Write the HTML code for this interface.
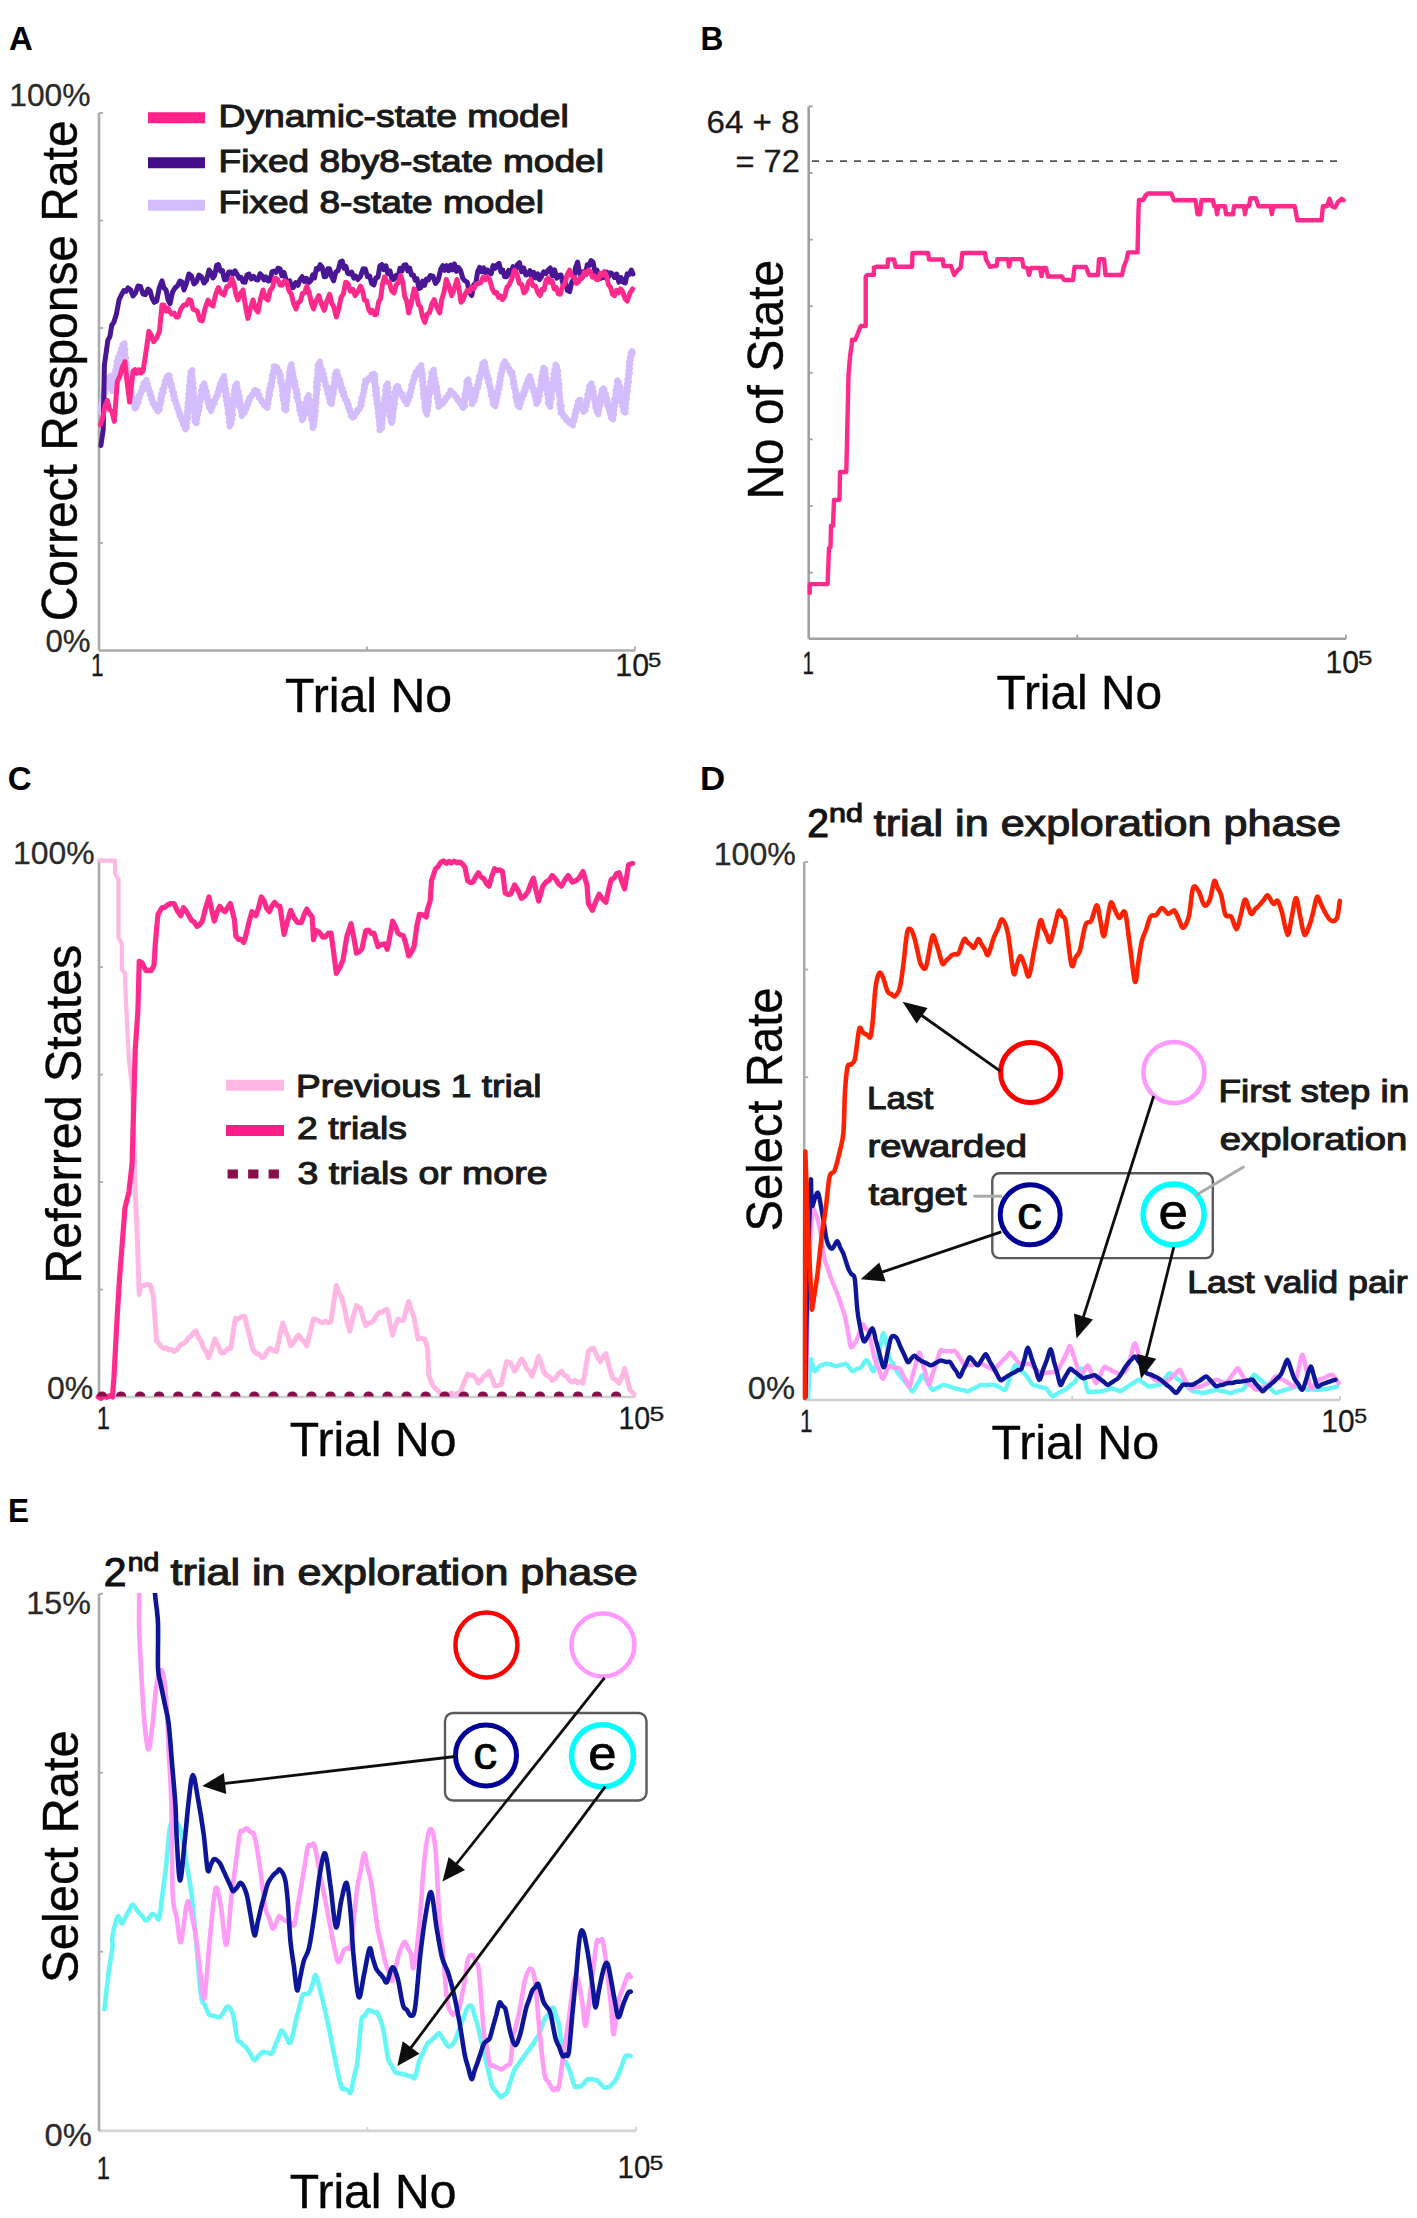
<!DOCTYPE html>
<html><head><meta charset="utf-8"><title>Figure</title>
<style>html,body{margin:0;padding:0;background:#fff;} svg{display:block;} text{font-family:"Liberation Sans", sans-serif;}</style>
</head><body>
<svg width="1417" height="2218" viewBox="0 0 1417 2218" font-family='"Liberation Sans", sans-serif'>
<defs><filter id="bl" x="0" y="0" width="1417" height="2218" filterUnits="userSpaceOnUse"><feGaussianBlur stdDeviation="0.7"/></filter></defs>
<rect width="1417" height="2218" fill="#fff"/>
<g filter="url(#bl)">
<line x1="99.0" y1="650.5" x2="635.0" y2="650.5" stroke="#ababab" stroke-width="2.6" />
<line x1="99.0" y1="113.0" x2="99.0" y2="650.5" stroke="#ababab" stroke-width="2.6" />
<line x1="99.0" y1="113.0" x2="103.0" y2="113.0" stroke="#ababab" stroke-width="1.8" />
<line x1="99.0" y1="220.5" x2="103.0" y2="220.5" stroke="#ababab" stroke-width="1.8" />
<line x1="99.0" y1="328.0" x2="103.0" y2="328.0" stroke="#ababab" stroke-width="1.8" />
<line x1="99.0" y1="435.5" x2="103.0" y2="435.5" stroke="#ababab" stroke-width="1.8" />
<line x1="99.0" y1="543.0" x2="103.0" y2="543.0" stroke="#ababab" stroke-width="1.8" />
<line x1="367.0" y1="650.5" x2="367.0" y2="646.5" stroke="#ababab" stroke-width="1.8" />
<line x1="635.0" y1="650.5" x2="635.0" y2="646.5" stroke="#ababab" stroke-width="1.8" />
<line x1="148.0" y1="117.8" x2="205.0" y2="117.8" stroke="#ff2288" stroke-width="11" />
<line x1="148.0" y1="162.7" x2="205.0" y2="162.7" stroke="#440b8c" stroke-width="11" />
<line x1="148.0" y1="205.2" x2="205.0" y2="205.2" stroke="#d4bdfc" stroke-width="11" />
<polyline points="100.3,412.0 101.4,410.0 100.6,407.6 102.6,405.8 101.6,403.3 103.3,401.4 102.4,399.0 104.0,397.0 103.4,394.6 105.4,392.9 104.5,390.3 106.3,388.6 106.1,386.2 107.5,384.4 107.0,381.9 109.2,380.3 108.7,377.8 110.6,376.1 111.0,377.6 109.6,380.0 111.4,382.0 110.5,384.3 111.6,386.4 110.9,388.7 112.2,390.8 112.7,390.1 112.2,387.8 113.4,385.8 112.9,383.4 114.5,381.5 113.5,379.0 115.4,377.2 114.4,374.7 116.2,372.8 115.2,370.4 117.0,368.5 116.3,366.2 118.2,364.3 116.7,361.7 118.9,360.0 118.0,357.4 120.0,355.8 119.7,353.4 121.3,351.6 121.2,349.2 123.0,347.5 122.4,345.0 124.5,343.4 124.5,344.8 123.2,347.2 125.3,349.2 124.3,351.5 125.3,353.6 124.2,355.9 126.0,358.0 124.7,360.4 126.5,362.3 125.9,364.6 127.3,366.6 126.1,369.0 127.7,371.0 127.2,373.3 128.4,375.4 127.2,377.8 129.3,379.7 128.4,382.0 129.6,384.1 129.1,386.4 130.1,388.5 129.4,390.9 131.2,392.7 130.7,395.1 132.6,396.9 132.2,399.3 134.0,401.0 133.4,403.5 135.1,405.3 134.6,407.7 135.0,408.3 136.7,406.5 136.5,404.2 138.6,402.5 137.5,399.9 139.5,398.2 138.8,395.7 140.9,394.0 140.7,391.6 142.9,390.1 142.2,387.5 144.0,385.8 143.6,383.3 145.7,381.8 146.5,379.9 145.9,382.4 147.8,384.1 147.5,386.5 148.9,388.4 148.9,390.7 150.5,392.5 150.0,395.0 151.8,396.7 151.2,399.2 153.1,400.8 152.7,403.5 155.2,404.7 155.0,407.2 157.4,408.5 157.3,411.0 158.1,411.3 159.8,409.4 158.5,406.9 160.3,405.0 159.9,402.7 161.5,400.8 160.3,398.2 162.1,396.4 161.2,393.9 163.5,392.2 162.4,389.6 164.3,388.0 164.1,385.6 165.5,383.7 165.0,381.2 167.1,379.6 166.6,377.1 168.5,375.4 169.5,375.6 168.5,378.1 170.3,380.0 169.9,382.3 171.7,384.1 171.1,386.6 172.5,388.5 171.9,390.9 174.0,392.6 173.0,395.2 174.7,397.0 173.9,399.5 175.9,401.2 175.8,403.5 177.3,405.4 177.0,407.8 178.6,409.6 178.5,411.9 180.2,413.7 179.7,416.2 181.6,417.8 181.6,420.2 183.8,421.6 182.9,424.4 185.4,425.8 184.8,428.4 185.5,429.2 186.8,427.1 186.3,424.8 187.1,422.7 186.1,420.4 188.0,418.4 186.4,416.0 187.9,413.9 187.0,411.7 188.6,409.6 187.4,407.3 188.9,405.2 187.6,402.9 189.1,400.8 188.3,398.5 189.9,396.4 188.4,394.1 190.3,392.1 188.9,389.7 190.7,387.7 189.1,385.3 190.8,383.3 189.7,381.0 191.6,378.9 189.9,376.6 191.6,374.5 190.4,372.2 192.3,370.2 192.3,370.7 191.0,373.0 192.5,375.1 191.4,377.4 193.0,379.4 192.1,381.7 193.3,383.8 191.8,386.1 193.8,388.2 192.3,390.5 193.8,392.6 192.6,394.9 194.3,397.0 193.1,399.3 194.8,401.4 193.7,403.7 195.0,405.8 194.1,408.0 195.3,410.2 194.1,412.4 195.3,414.6 194.3,416.8 195.8,418.9 194.6,421.2 196.5,423.3 196.3,423.1 196.0,420.8 197.2,418.8 196.3,416.4 197.9,414.5 197.5,412.2 199.2,410.3 198.0,407.8 199.8,405.9 198.7,403.4 200.5,401.6 199.7,399.1 201.3,397.2 200.6,394.9 202.5,393.0 201.1,390.5 203.4,388.7 202.3,386.2 204.0,384.3 204.3,383.3 203.9,385.6 205.4,387.5 204.4,390.0 206.7,391.7 205.5,394.3 207.7,396.0 206.8,398.5 208.2,400.4 207.7,402.8 209.3,404.7 208.9,407.0 210.4,408.9 211.1,411.1 210.6,408.5 212.6,406.9 212.1,404.4 214.7,403.1 214.1,400.4 215.8,398.8 216.0,396.5 218.0,394.9 217.6,392.4 219.4,390.7 218.7,388.1 220.6,386.4 220.0,383.9 221.8,382.2 221.9,379.9 223.6,378.2 224.0,376.1 223.1,378.4 224.8,380.4 224.2,382.7 225.2,384.8 224.4,387.1 226.0,389.1 225.0,391.5 226.8,393.5 225.4,395.9 227.5,397.8 226.1,400.2 227.6,402.2 226.8,404.6 228.2,406.6 227.7,408.9 228.9,410.9 227.8,413.3 229.3,415.3 228.7,417.6 230.0,419.7 229.0,422.0 230.7,424.0 229.6,426.4 229.8,425.4 231.4,423.4 230.3,421.0 232.3,419.1 231.3,416.7 232.9,414.7 231.4,412.3 232.8,410.3 232.1,408.0 233.7,406.0 232.3,403.6 234.1,401.6 233.1,399.2 234.9,397.2 233.5,394.8 235.5,392.9 234.2,390.5 235.9,388.5 234.9,386.2 236.4,384.1 236.8,383.4 235.7,385.9 237.6,387.7 236.8,390.1 238.6,392.0 237.2,394.5 239.5,396.3 238.3,398.8 240.2,400.6 239.3,403.1 241.2,404.9 239.8,407.5 241.7,409.3 241.2,411.7 242.6,413.6 241.8,416.0 242.4,414.3 244.6,412.8 244.5,410.4 246.4,408.8 246.1,406.3 248.0,404.7 247.7,402.2 249.4,400.5 249.3,398.0 251.5,396.8 252.1,394.5 254.2,393.3 254.1,390.6 255.2,390.0 257.6,391.2 257.0,394.0 259.4,395.3 258.9,397.9 261.1,399.3 261.6,401.6 263.7,402.8 264.0,405.3 266.3,406.3 267.4,407.8 266.4,405.4 268.4,403.5 267.2,401.1 268.8,399.1 268.2,396.8 270.0,394.9 268.6,392.4 270.4,390.5 269.5,388.1 271.7,386.3 270.5,383.8 272.3,381.9 271.6,379.5 273.1,377.6 272.2,375.1 273.9,373.2 273.3,370.9 275.0,369.0 273.8,366.5 274.7,366.3 277.1,367.4 277.0,370.1 279.3,371.2 279.3,373.8 280.7,375.5 280.0,377.8 281.5,379.8 280.3,382.2 282.5,384.1 281.4,386.5 282.8,388.5 282.1,390.9 283.4,392.9 282.3,395.3 284.4,397.2 283.1,399.6 284.6,401.6 283.9,403.9 285.4,405.9 284.1,408.4 285.7,410.3 286.4,409.5 285.5,407.2 286.5,405.1 285.9,402.8 287.3,400.8 286.3,398.4 287.6,396.4 286.6,394.0 287.9,392.0 287.0,389.7 288.4,387.6 287.6,385.3 289.0,383.2 288.3,381.0 289.7,378.9 288.7,376.6 290.1,374.5 289.2,372.2 290.7,370.1 289.9,367.8 290.9,365.7 291.5,364.3 290.5,366.8 292.3,368.7 291.2,371.1 293.2,373.0 292.1,375.4 293.8,377.3 293.0,379.7 295.1,381.6 293.8,384.1 295.6,386.0 295.0,388.3 296.9,390.2 296.0,392.6 297.8,394.5 296.4,397.0 298.1,398.9 297.8,401.2 299.6,403.1 298.8,405.5 300.1,407.5 299.4,409.9 301.4,411.7 300.5,414.2 302.2,416.0 301.7,418.4 302.1,420.0 303.6,418.1 303.3,415.8 304.9,413.9 303.7,411.4 306.1,409.6 305.2,407.2 306.7,405.3 305.7,402.8 307.6,401.0 306.6,398.5 308.3,396.6 308.6,395.2 308.2,397.5 309.3,399.5 308.6,401.9 310.3,403.8 309.3,406.2 310.7,408.2 310.3,410.5 311.5,412.5 310.5,414.9 312.7,416.8 311.1,419.3 312.8,421.2 312.4,423.5 314.0,425.5 312.8,427.9 312.8,426.5 314.3,424.4 313.4,422.2 314.8,420.1 313.7,417.8 315.2,415.7 314.4,413.4 315.7,411.3 314.2,409.0 315.7,406.9 314.8,404.6 316.4,402.5 315.2,400.2 316.4,398.1 315.7,395.9 316.9,393.7 316.2,391.5 317.6,389.4 316.0,387.0 317.8,385.0 316.3,382.7 318.1,380.6 316.9,378.3 318.4,376.2 317.2,373.9 319.0,371.8 317.4,369.5 318.9,367.4 317.7,365.1 319.6,363.1 319.9,361.5 318.9,364.1 320.9,365.8 320.1,368.4 322.5,369.9 321.5,372.5 323.7,374.2 322.7,376.8 324.7,378.4 324.0,380.9 325.6,382.8 325.4,385.1 327.1,387.0 326.7,389.3 328.1,391.2 327.4,393.7 329.4,395.4 328.8,397.9 330.8,399.6 329.7,402.2 331.5,404.0 332.1,402.2 331.0,399.8 332.7,397.9 331.8,395.5 333.7,393.6 332.3,391.1 334.2,389.2 332.9,386.8 335.1,384.9 334.1,382.5 335.5,380.5 334.3,378.1 335.9,376.1 335.2,373.8 336.5,371.7 337.1,371.7 336.8,374.1 338.3,375.9 338.2,378.3 340.2,380.0 339.3,382.5 341.2,384.2 340.3,386.8 342.6,388.4 341.6,391.0 344.0,392.6 343.2,395.2 345.1,396.8 344.9,399.3 347.1,400.8 346.8,403.3 348.7,404.9 348.2,407.4 349.9,409.1 349.7,411.6 351.5,413.2 351.0,415.8 352.7,417.5 354.5,416.4 354.6,413.7 356.9,412.7 357.1,410.2 359.5,409.2 360.0,406.8 361.6,405.1 360.7,402.7 362.3,400.8 361.5,398.3 363.2,396.4 362.8,394.1 364.1,392.1 363.7,389.8 364.9,387.8 364.1,385.4 365.9,383.5 365.2,380.6 368.0,380.3 368.8,378.0 371.3,377.4 371.5,374.4 374.0,373.8 375.1,375.2 373.8,377.6 375.3,379.6 373.9,382.0 375.6,384.0 374.7,386.3 376.6,388.3 375.1,390.7 376.8,392.7 375.4,395.1 377.5,397.1 376.2,399.5 377.6,401.5 376.7,403.8 378.3,405.9 377.5,408.2 378.5,410.3 377.8,412.6 379.1,414.6 378.3,416.9 380.0,419.0 378.8,421.3 380.2,423.4 379.3,425.7 380.8,427.7 379.6,430.1 380.1,429.8 382.1,427.8 380.4,425.4 382.5,423.4 381.5,421.1 382.6,419.0 381.7,416.6 383.7,414.7 382.4,412.3 384.0,410.3 383.3,408.0 384.9,406.0 383.7,403.6 385.4,401.6 384.3,399.2 386.1,397.3 385.2,394.9 386.4,392.9 385.2,390.5 387.4,388.6 385.9,386.1 387.4,384.1 387.7,383.5 387.1,385.7 388.4,387.8 387.3,390.1 388.6,392.2 387.8,394.5 389.0,396.6 388.5,398.9 389.9,400.9 388.7,403.3 390.3,405.3 389.2,407.6 390.6,409.7 389.8,412.0 391.0,414.1 389.8,416.4 391.7,418.4 390.7,420.7 391.7,422.9 392.5,421.0 391.2,418.6 393.1,416.7 392.1,414.3 393.4,412.3 392.7,410.0 394.3,408.0 393.2,405.6 394.9,403.6 393.4,401.2 395.2,399.2 394.4,396.9 396.2,394.9 394.7,392.5 396.6,390.5 395.7,388.2 397.0,386.1 398.2,386.3 398.2,388.8 399.9,390.4 400.1,392.8 402.4,394.0 402.2,396.7 404.4,397.9 404.3,400.5 406.5,401.8 406.9,404.1 407.1,402.2 408.7,400.3 408.4,398.0 410.2,396.2 409.2,393.6 411.0,391.8 410.7,389.5 412.1,387.6 411.3,385.1 413.2,383.3 412.8,380.9 414.5,379.1 413.8,376.5 416.3,375.4 415.7,372.5 418.4,371.5 418.2,368.8 420.5,367.6 421.3,365.3 420.5,367.6 421.9,369.6 420.6,372.0 422.7,374.0 421.5,376.3 422.8,378.4 421.9,380.7 423.3,382.8 422.4,385.1 423.7,387.1 423.0,389.4 424.3,391.5 423.0,393.9 424.8,395.9 423.5,398.2 425.3,400.2 424.4,402.6 425.9,404.6 424.4,407.0 426.0,409.0 425.5,411.3 426.7,413.4 427.0,414.5 425.9,412.1 427.9,410.2 426.5,407.7 428.4,405.8 427.5,403.4 428.9,401.4 427.7,399.0 429.2,397.0 428.8,394.7 430.3,392.7 428.9,390.3 430.5,388.3 429.7,386.0 431.2,384.0 430.3,381.6 432.1,379.7 431.3,377.3 432.5,375.3 431.5,372.9 433.3,370.9 433.8,369.8 432.8,372.2 434.3,374.2 433.2,376.6 435.3,378.5 434.3,380.9 436.0,382.8 434.9,385.2 436.9,387.1 435.6,389.6 437.5,391.5 436.4,393.9 438.4,395.8 437.1,398.3 439.3,400.1 437.9,402.6 440.1,404.4 438.6,406.9 440.2,404.8 442.7,403.9 442.8,401.2 445.5,400.5 445.6,397.8 447.9,396.8 448.4,394.4 450.7,393.4 450.5,390.5 452.2,392.6 454.2,393.8 454.8,396.1 456.9,397.3 457.2,399.8 459.7,400.7 459.9,403.3 461.8,404.6 462.3,406.9 463.0,407.7 464.9,405.8 463.9,403.4 465.0,401.3 464.3,399.0 465.9,397.0 464.6,394.6 466.1,392.6 465.7,390.3 466.8,388.3 466.3,386.0 467.5,383.9 466.5,381.6 468.3,379.6 468.4,380.0 468.0,382.3 469.4,384.3 468.9,386.6 470.6,388.5 469.7,391.0 471.3,392.9 470.3,395.3 472.2,397.2 471.5,399.6 473.4,401.4 472.0,404.0 472.9,402.4 474.6,400.5 473.6,398.0 475.7,396.2 475.1,393.8 476.4,391.9 475.7,389.5 478.0,387.8 477.2,385.3 478.9,383.5 478.2,381.0 479.8,379.1 478.9,376.6 481.2,374.9 480.5,372.5 481.8,370.6 481.4,368.2 483.1,366.4 482.3,363.9 484.4,362.1 484.9,362.6 484.3,365.0 485.6,367.0 485.1,369.3 486.6,371.2 485.8,373.7 487.8,375.5 486.9,377.9 489.1,379.7 488.2,382.2 489.8,384.1 489.3,386.4 491.0,388.3 490.4,390.7 492.0,392.6 490.8,395.1 493.0,396.9 492.3,399.3 493.7,401.2 492.9,403.7 494.6,405.5 495.3,406.2 494.5,403.7 496.5,401.9 495.3,399.4 497.3,397.6 496.4,395.2 498.2,393.3 497.2,390.8 499.2,389.0 498.3,386.6 500.0,384.7 499.1,382.2 500.7,380.3 499.8,377.9 501.3,375.9 500.5,373.5 502.3,371.7 501.7,369.3 503.0,367.3 502.6,365.0 504.2,363.1 504.9,361.3 504.9,363.9 507.3,365.0 507.5,367.5 509.5,368.8 509.7,371.3 512.3,372.2 511.3,375.0 513.3,376.8 512.7,379.2 514.0,381.2 513.1,383.6 514.7,385.5 514.0,387.9 515.7,389.8 515.2,392.1 516.9,394.1 515.5,396.6 517.2,398.5 516.4,400.9 518.1,402.8 517.4,405.1 519.1,407.1 519.5,407.2 519.2,404.8 520.9,403.1 520.3,400.6 522.2,398.9 522.1,396.5 523.9,394.8 523.4,392.3 525.5,390.7 524.6,388.1 526.7,386.5 526.2,384.0 528.2,382.3 527.7,379.8 529.1,378.0 529.8,376.1 529.3,378.5 531.4,380.2 530.9,382.7 532.4,384.5 531.6,387.0 533.8,388.7 533.3,391.1 534.7,393.0 534.5,395.4 535.8,397.3 535.5,399.7 537.0,401.5 536.4,404.0 537.1,402.4 538.7,400.5 537.7,398.1 539.7,396.2 538.4,393.7 540.2,391.8 539.5,389.4 541.0,387.5 540.5,385.1 541.8,383.1 540.8,380.7 542.9,378.9 541.5,376.4 543.5,374.5 542.4,372.1 543.8,370.1 543.4,367.8 543.7,367.8 545.3,369.8 544.4,372.1 545.7,374.2 544.8,376.5 546.5,378.5 545.1,380.9 547.0,382.9 546.2,385.2 547.7,387.2 546.2,389.6 548.1,391.6 547.2,393.9 548.7,396.0 547.9,398.3 549.4,400.3 547.9,402.7 549.9,404.7 550.3,407.0 549.0,404.5 550.6,402.6 549.6,400.2 551.6,398.3 550.8,395.9 551.9,393.9 551.4,391.6 552.9,389.6 551.8,387.2 553.4,385.2 552.3,382.8 554.1,380.8 553.3,378.5 554.6,376.5 553.6,374.1 555.3,372.1 554.4,369.8 556.3,367.8 555.3,365.4 555.6,364.7 557.0,366.8 555.8,369.1 558.0,371.1 556.3,373.5 558.2,375.5 557.3,377.8 558.8,379.9 557.6,382.2 559.3,384.2 558.1,386.6 559.5,388.6 558.2,391.0 559.7,393.0 558.9,395.3 560.1,397.4 559.7,399.7 560.7,401.8 559.5,404.1 561.7,406.1 560.2,408.5 561.7,410.5 560.6,412.8 563.0,414.1 563.4,416.6 565.9,417.4 566.2,420.1 568.5,421.0 569.4,423.1 571.7,424.0 572.8,425.3 572.4,422.9 574.2,421.1 573.6,418.7 575.2,416.8 574.6,414.4 576.3,412.5 575.6,410.1 577.4,408.3 576.9,405.9 578.5,404.0 577.9,401.6 579.8,399.8 580.2,399.8 579.7,402.4 581.7,404.0 581.3,406.5 583.5,408.0 582.8,410.6 583.5,411.8 585.5,410.0 584.3,407.5 586.7,405.8 585.4,403.2 587.4,401.4 586.7,399.0 588.4,397.1 587.3,394.6 589.4,392.8 588.6,390.4 590.3,388.5 589.3,386.1 591.2,384.2 591.5,383.4 590.8,385.8 593.0,387.6 591.7,390.1 593.6,391.9 592.6,394.4 594.3,396.3 593.6,398.7 595.1,400.6 594.8,402.9 596.2,404.9 595.4,407.3 597.1,409.2 596.6,411.5 598.2,413.4 598.5,414.4 597.8,412.0 599.2,410.0 598.6,407.7 600.0,405.7 599.7,403.4 601.4,401.5 599.9,399.0 602.1,397.1 600.9,394.7 602.8,392.8 601.8,390.4 603.5,388.5 604.4,389.7 603.6,392.3 605.8,393.9 605.1,396.4 606.9,398.2 606.4,400.6 608.0,402.4 607.0,405.0 608.9,406.8 608.7,409.1 610.3,410.9 609.9,413.3 611.4,415.2 610.8,417.7 613.1,419.3 613.3,419.0 612.4,416.7 614.0,414.7 613.2,412.3 614.2,410.3 613.2,407.9 614.9,405.9 614.1,403.6 616.0,401.6 614.3,399.2 616.2,397.2 615.5,394.9 616.7,392.8 615.5,390.5 617.7,388.5 616.6,386.2 618.2,384.2 617.1,381.8 617.3,380.4 618.8,382.4 617.9,384.8 620.2,386.6 619.3,389.0 620.8,391.0 620.1,393.3 621.9,395.2 621.1,397.6 622.2,399.7 621.5,402.0 623.2,403.9 622.2,406.4 624.4,408.2 623.2,410.7 624.8,412.6 625.5,412.4 624.0,410.1 625.8,408.0 625.1,405.7 626.1,403.6 625.4,401.4 626.9,399.3 625.9,397.0 627.0,394.9 626.4,392.6 627.8,390.6 626.4,388.2 628.1,386.2 627.0,383.8 628.9,381.8 627.5,379.5 628.9,377.4 628.2,375.1 629.9,373.1 628.4,370.7 629.9,368.6 628.9,366.3 630.2,364.3 629.1,361.9 630.9,359.9 629.9,357.6 631.5,355.5 630.7,353.2 632.0,351.2 632.5,351.9 632.6,353.2" fill="none" stroke="#d4bdfc" stroke-width="6.2" stroke-linejoin="round" stroke-linecap="round" />
<polyline points="100.9,445.5 103.2,429.6 103.8,394.5 104.4,365.0 107.9,340.0 109.9,336.7 111.8,325.2 113.8,322.4 116.4,314.1 119.1,299.6 121.8,294.2 123.9,290.5 125.9,291.3 128.0,288.0 130.5,289.8 133.0,296.0 135.5,293.0 138.0,286.0 140.5,286.5 143.0,294.0 145.5,294.6 148.0,289.0 150.0,290.6 152.0,298.0 154.3,302.3 156.7,301.0 159.3,287.8 162.0,280.8 164.0,288.1 166.0,289.8 168.0,299.6 170.0,303.6 172.5,292.1 175.0,288.0 177.5,285.9 180.0,281.0 182.0,282.0 184.0,290.0 186.4,283.4 188.9,274.0 191.4,275.9 194.0,284.0 196.5,281.6 199.0,275.0 201.5,276.7 204.0,283.0 206.5,280.1 209.0,270.0 211.0,272.7 213.0,278.0 214.8,274.9 216.6,265.4 218.4,264.7 220.4,271.0 222.4,270.6 224.4,279.8 226.4,279.5 228.7,271.9 231.0,272.0 233.0,274.2 235.0,270.9 237.0,274.0 239.0,278.2 241.0,277.3 243.0,282.0 245.0,282.3 247.0,275.0 249.0,274.0 251.3,279.0 253.6,276.3 255.9,279.5 257.9,280.0 260.0,273.7 262.0,276.0 264.0,280.0 266.0,277.0 268.0,281.0 270.0,280.5 272.0,271.8 274.0,271.0 276.0,272.5 278.0,268.2 280.0,268.8 282.0,275.8 284.0,272.4 286.0,280.0 287.9,285.8 289.7,280.7 291.5,287.8 293.4,287.5 295.6,282.6 297.9,285.3 300.1,279.5 302.2,276.7 304.4,281.5 306.5,278.4 308.7,282.8 310.8,280.8 312.7,274.9 314.6,277.8 316.4,268.5 318.3,269.2 320.2,264.7 322.2,267.2 324.2,276.8 326.0,276.5 327.8,268.8 329.6,268.8 331.6,276.6 333.6,280.8 335.8,272.1 338.1,270.6 340.3,262.0 342.2,261.0 344.1,268.3 345.9,266.5 347.8,273.3 349.7,274.0 351.7,272.2 353.8,278.1 355.8,276.2 357.8,279.5 360.5,276.3 363.1,268.8 365.3,269.0 367.4,276.6 369.6,276.0 371.7,283.5 373.9,284.9 375.9,277.9 377.9,277.3 379.9,265.9 381.9,264.7 383.9,269.7 385.9,265.8 387.9,273.8 390.0,270.8 392.0,279.3 394.0,279.5 396.0,275.3 398.0,277.9 400.0,268.3 402.0,270.9 404.0,265.2 406.0,264.7 407.9,270.9 409.7,268.2 411.6,275.1 413.4,274.9 415.2,280.3 417.1,278.9 418.9,288.6 420.8,287.5 422.7,281.1 424.6,285.3 426.4,279.0 428.3,280.0 430.2,275.5 432.9,276.1 435.5,283.5 438.2,279.7 440.9,268.8 442.8,265.7 444.8,270.3 446.7,265.7 448.6,270.7 450.6,265.1 452.5,269.8 454.4,263.9 456.4,271.3 458.3,267.4 460.5,270.2 462.8,278.3 465.0,280.8 467.2,282.1 469.5,292.6 471.7,295.6 473.7,284.7 475.7,284.1 477.7,271.3 479.7,267.4 481.6,271.7 483.5,267.8 485.3,272.6 487.2,269.8 489.1,272.8 491.1,273.9 493.1,265.6 495.2,268.3 497.2,264.7 499.1,263.4 501.0,271.9 502.8,270.1 504.7,276.8 506.6,276.8 508.7,270.4 510.9,274.7 513.0,266.6 515.2,270.9 517.3,264.7 519.4,262.7 521.6,271.7 523.7,267.9 525.9,275.0 528.0,274.0 529.9,270.7 531.8,278.2 533.7,272.4 535.7,277.8 537.6,273.8 539.5,279.7 541.4,276.8 543.6,271.8 545.9,273.6 548.1,270.1 550.3,268.0 552.4,276.0 554.6,269.9 556.7,278.1 558.9,275.5 561.0,275.0 563.2,284.6 565.3,281.8 567.5,290.6 569.6,291.6 571.6,282.7 573.6,279.0 575.6,267.3 577.6,262.0 579.7,273.9 581.7,278.2 583.6,271.6 585.4,273.9 587.3,264.8 589.1,265.7 591.0,260.7 593.0,262.0 595.0,271.9 597.1,270.5 599.1,276.8 601.0,278.3 602.9,273.7 604.8,277.7 606.8,272.1 608.7,276.4 610.6,272.9 612.5,274.0 614.6,277.7 616.8,274.1 618.9,282.2 621.1,277.5 623.2,282.2 625.2,283.0 627.2,273.9 629.3,274.4 631.3,270.1 633.0,274.0" fill="none" stroke="#4a1396" stroke-width="5.0" stroke-linejoin="round" stroke-linecap="round" />
<polyline points="100.3,425.0 102.6,418.2 105.0,406.2 107.3,400.3 109.6,409.7 112.0,411.7 114.3,421.4 117.3,381.6 119.8,376.3 122.4,366.9 124.9,361.7 127.2,383.1 129.6,402.1 133.1,371.0 135.1,369.6 137.1,373.4 139.1,369.8 141.1,373.0 143.1,371.0 146.6,347.6 148.9,331.2 151.2,335.1 153.6,341.7 156.6,338.0 159.5,331.2 162.0,305.0 164.0,304.9 166.0,311.2 168.0,308.1 170.0,312.0 172.0,314.2 174.1,313.0 176.1,317.0 178.1,317.0 181.1,308.3 184.0,305.0 186.4,304.9 188.9,299.6 190.9,300.5 193.0,309.2 195.0,310.0 197.4,311.2 199.9,320.2 202.3,321.0 205.2,307.9 208.0,300.0 210.5,304.4 213.0,306.0 215.7,294.1 218.4,287.5 221.2,293.2 224.0,295.0 226.6,286.9 229.2,285.9 231.8,278.2 233.9,283.7 235.9,294.4 238.0,300.0 240.5,293.2 243.0,290.0 245.4,305.8 247.9,318.4 250.4,308.1 253.0,300.0 255.5,308.6 258.0,312.0 260.5,298.4 263.0,290.0 265.5,298.0 268.0,300.0 270.2,290.4 272.5,287.5 274.7,278.2 277.4,279.1 280.0,284.9 282.2,285.2 284.5,280.8 286.7,282.2 289.0,290.7 291.4,294.3 293.7,303.6 296.0,309.0 298.2,302.4 300.3,301.3 302.5,293.5 304.6,292.9 306.8,286.2 309.0,292.1 311.3,302.6 313.5,309.0 316.2,300.4 318.9,295.6 321.5,304.3 324.2,310.3 326.9,300.9 329.6,294.2 331.8,303.1 334.1,307.7 336.3,317.0 338.6,309.4 341.0,297.3 343.4,293.8 345.7,282.2 348.1,283.8 350.4,291.3 352.8,289.4 355.1,295.6 357.8,291.9 360.5,286.2 362.5,290.7 364.5,300.2 366.5,300.6 368.5,309.0 370.5,312.6 372.5,310.5 374.5,314.8 376.5,314.4 378.5,302.3 380.6,298.4 382.6,283.6 384.6,276.8 387.0,282.2 389.3,282.2 391.6,290.6 394.0,292.9 396.2,284.7 398.5,282.5 400.7,275.5 402.7,281.9 404.7,296.4 406.7,301.2 408.7,313.0 411.4,302.3 414.1,288.9 416.2,293.4 418.4,304.4 420.5,306.9 422.7,317.4 424.8,322.4 427.1,314.3 429.5,312.6 431.9,303.8 434.2,299.6 436.9,307.5 439.6,313.0 441.8,299.5 444.1,291.8 446.3,279.5 449.0,286.2 451.6,295.6 454.3,288.6 457.0,279.5 459.0,288.6 461.0,302.3 463.0,300.3 465.0,294.2 467.2,290.4 469.5,291.6 471.7,287.0 473.9,288.7 476.2,284.2 478.4,283.5 480.8,282.7 483.1,277.2 485.4,279.6 487.8,276.8 490.0,280.6 492.3,289.0 494.5,292.9 496.5,292.4 498.5,297.3 500.5,296.0 502.5,299.6 504.7,296.4 507.0,287.1 509.2,284.9 511.9,278.4 514.6,270.1 517.0,274.2 519.3,283.4 521.6,284.3 524.0,292.9 526.2,290.4 528.5,282.1 530.7,279.5 533.1,285.8 535.4,286.0 537.8,292.5 540.1,295.6 542.1,289.3 544.1,289.7 546.1,280.1 548.1,278.2 550.1,282.3 552.1,281.2 554.2,288.9 556.2,287.4 558.2,293.7 560.2,294.2 562.6,286.5 564.9,283.6 567.2,274.6 569.6,270.1 571.8,275.9 574.1,277.4 576.3,283.5 578.3,282.2 580.3,277.3 582.3,277.9 584.4,272.1 586.4,274.5 588.4,270.1 590.4,271.5 592.4,277.3 594.4,275.9 596.4,279.5 598.4,279.4 600.4,273.4 602.4,275.1 604.4,271.5 606.4,275.7 608.5,284.7 610.5,287.3 612.5,294.2 614.5,295.6 616.5,290.4 618.5,292.9 620.5,288.9 622.7,291.6 625.0,298.5 627.2,301.0 629.9,293.2 632.6,288.9" fill="none" stroke="#ff2a8c" stroke-width="5.0" stroke-linejoin="round" stroke-linecap="round" />
<line x1="808.7" y1="638.7" x2="1346.0" y2="638.7" stroke="#a0a0a0" stroke-width="2.6" />
<line x1="808.7" y1="106.4" x2="808.7" y2="638.7" stroke="#a0a0a0" stroke-width="2.6" />
<line x1="808.7" y1="106.4" x2="812.7" y2="106.4" stroke="#a0a0a0" stroke-width="1.8" />
<line x1="808.7" y1="173.0" x2="812.7" y2="173.0" stroke="#a0a0a0" stroke-width="1.8" />
<line x1="808.7" y1="239.6" x2="812.7" y2="239.6" stroke="#a0a0a0" stroke-width="1.8" />
<line x1="808.7" y1="306.2" x2="812.7" y2="306.2" stroke="#a0a0a0" stroke-width="1.8" />
<line x1="808.7" y1="372.8" x2="812.7" y2="372.8" stroke="#a0a0a0" stroke-width="1.8" />
<line x1="808.7" y1="439.4" x2="812.7" y2="439.4" stroke="#a0a0a0" stroke-width="1.8" />
<line x1="808.7" y1="506.0" x2="812.7" y2="506.0" stroke="#a0a0a0" stroke-width="1.8" />
<line x1="808.7" y1="572.6" x2="812.7" y2="572.6" stroke="#a0a0a0" stroke-width="1.8" />
<line x1="1077.3" y1="638.7" x2="1077.3" y2="634.7" stroke="#a0a0a0" stroke-width="1.8" />
<line x1="1346.0" y1="638.7" x2="1346.0" y2="634.7" stroke="#a0a0a0" stroke-width="1.8" />
<line x1="812.0" y1="161.2" x2="1343.0" y2="161.2" stroke="#555" stroke-width="1.8" stroke-dasharray="7 7"/>
<polyline points="809.7,593.0 809.7,584.1 827.6,584.1 829.0,548.0 830.5,547.0 831.0,525.7 833.0,525.7 834.0,500.0 839.5,499.7 840.0,472.0 846.3,472.0 847.5,420.0 848.5,374.7 850.0,356.9 851.8,343.9 852.0,339.8 855.2,339.8 858.0,333.0 860.0,327.6 861.0,326.0 865.7,326.0 865.7,276.5 867.4,274.9 873.9,274.9 873.9,267.6 876.3,266.8 887.6,266.8 888.0,259.5 894.1,259.5 895.5,266.8 912.0,266.8 912.5,253.0 928.2,253.0 929.0,259.5 942.8,259.5 943.5,266.0 951.0,266.0 954.2,274.9 958.0,270.0 960.7,267.6 962.3,253.0 985.0,253.0 986.0,259.5 989.9,266.8 996.7,265.8 997.5,259.1 1008.0,259.1 1009.0,266.5 1011.0,259.1 1022.0,259.1 1023.5,267.0 1027.0,268.0 1029.0,275.0 1031.0,268.0 1040.0,268.0 1041.5,276.0 1043.0,268.0 1046.0,268.0 1048.0,276.5 1062.0,276.5 1064.0,280.0 1073.0,280.0 1074.5,267.0 1086.0,267.0 1089.0,275.0 1098.0,275.0 1099.0,259.1 1104.0,259.1 1105.5,275.0 1122.0,275.0 1124.0,266.0 1126.5,260.0 1128.0,252.4 1137.5,252.4 1138.5,210.0 1139.0,200.0 1143.0,200.0 1146.0,195.0 1148.0,193.4 1171.3,193.5 1174.0,200.2 1195.5,200.2 1197.5,214.2 1200.0,214.2 1201.5,200.2 1213.0,200.2 1214.2,206.2 1216.0,206.2 1217.0,214.2 1218.5,206.2 1225.0,206.2 1226.0,214.2 1233.0,214.2 1234.0,206.2 1244.0,206.2 1245.0,214.2 1246.5,206.2 1249.0,206.2 1250.4,198.2 1255.8,198.2 1258.5,206.2 1270.5,206.2 1271.9,214.2 1273.2,206.2 1294.7,206.2 1297.4,220.3 1321.5,220.3 1322.9,206.2 1327.0,206.2 1329.6,198.8 1332.0,206.2 1335.0,207.5 1338.0,202.0 1341.6,198.8 1343.6,200.2" fill="none" stroke="#ff2a8c" stroke-width="4.4" stroke-linejoin="round" stroke-linecap="round" />
<line x1="99.0" y1="1397.0" x2="635.0" y2="1397.0" stroke="#cfcfcf" stroke-width="2.6" />
<line x1="99.0" y1="859.6" x2="99.0" y2="1397.0" stroke="#ababab" stroke-width="2.6" />
<line x1="99.0" y1="859.6" x2="103.0" y2="859.6" stroke="#ababab" stroke-width="1.8" />
<line x1="99.0" y1="967.1" x2="103.0" y2="967.1" stroke="#ababab" stroke-width="1.8" />
<line x1="99.0" y1="1074.6" x2="103.0" y2="1074.6" stroke="#ababab" stroke-width="1.8" />
<line x1="99.0" y1="1182.1" x2="103.0" y2="1182.1" stroke="#ababab" stroke-width="1.8" />
<line x1="99.0" y1="1289.6" x2="103.0" y2="1289.6" stroke="#ababab" stroke-width="1.8" />
<line x1="367.0" y1="1397.0" x2="367.0" y2="1393.0" stroke="#cfcfcf" stroke-width="1.8" />
<line x1="635.0" y1="1397.0" x2="635.0" y2="1393.0" stroke="#cfcfcf" stroke-width="1.8" />
<line x1="226.0" y1="1085.2" x2="284.0" y2="1085.2" stroke="#ffb8e4" stroke-width="11" />
<line x1="226.0" y1="1130.5" x2="284.0" y2="1130.5" stroke="#ff1f88" stroke-width="11" />
<line x1="227.6" y1="1173.9" x2="284.0" y2="1173.9" stroke="#8a0c4c" stroke-width="9" stroke-dasharray="10.3 10.2"/>
<polyline points="99.0,860.7 115.1,860.7 115.1,874.0 118.5,879.5 118.5,937.2 121.8,943.9 121.8,969.3 125.2,973.4 125.2,984.0 125.8,997.5 128.9,1059.5 132.9,1097.3" fill="none" stroke="#ffb8e4" stroke-width="4.2" stroke-linejoin="round" stroke-linecap="round" />
<polyline points="132.9,1097.3 135.2,1192.0 136.8,1223.6 139.2,1294.6 140.8,1285.1 143.9,1285.6 147.1,1284.2 150.2,1285.1 153.4,1296.2 156.5,1340.4 161.3,1346.7 163.8,1348.5 166.3,1347.8 168.9,1350.1 171.4,1349.4 173.9,1351.4 177.1,1349.8 180.2,1345.3 183.4,1343.5 185.9,1341.8 188.4,1337.9 191.0,1336.3 193.5,1332.7 196.0,1330.9 198.5,1337.1 201.0,1341.2 203.6,1348.0 206.1,1351.8 208.6,1357.7 211.8,1348.8 214.9,1338.8 218.1,1345.5 221.2,1353.0 224.4,1352.6 227.5,1348.8 230.7,1348.2 235.4,1318.3 238.6,1318.9 241.7,1316.4 244.9,1316.7 247.5,1328.1 250.2,1338.1 252.8,1349.8 256.0,1353.2 259.1,1354.6 262.3,1357.7 264.9,1355.7 267.6,1350.7 270.2,1348.2 273.4,1350.3 276.5,1351.4 279.6,1336.2 282.8,1323.0 285.4,1331.1 288.1,1337.1 290.7,1345.8 293.4,1343.0 296.1,1337.8 298.8,1335.1 301.5,1339.3 304.1,1341.5 306.8,1345.8 310.1,1332.9 313.5,1319.0 316.9,1320.0 320.2,1321.7 322.9,1322.8 325.6,1321.1 328.3,1322.7 331.0,1321.7 333.6,1303.1 336.3,1285.5 339.0,1292.7 341.7,1297.5 344.4,1307.6 347.0,1320.9 349.7,1331.1 353.0,1317.3 356.4,1305.6 360.5,1308.3 363.1,1317.8 365.8,1325.7 368.5,1322.9 371.2,1322.6 373.9,1320.3 376.5,1315.5 379.2,1312.3 381.9,1312.5 384.6,1310.0 387.3,1309.6 390.0,1323.5 392.6,1335.1 395.3,1325.9 398.0,1319.0 400.7,1320.4 403.4,1320.3 406.0,1310.3 408.7,1301.6 411.4,1310.4 414.1,1317.7 418.1,1339.1 421.5,1338.4 424.8,1339.1 427.5,1348.5 428.8,1375.3 431.5,1382.5 434.2,1387.4 437.5,1390.1 440.9,1394.1 443.6,1394.5 446.3,1393.7 449.0,1395.1 451.6,1392.9 454.3,1394.9 457.0,1393.3 459.7,1394.1 463.0,1385.0 467.7,1374.0 470.4,1375.4 473.0,1375.1 475.7,1378.1 478.4,1383.1 481.1,1380.6 483.8,1376.2 486.4,1374.9 489.1,1371.1 491.8,1377.6 494.5,1385.8 497.9,1385.7 501.2,1384.5 503.9,1372.6 506.6,1361.7 510.6,1363.0 514.6,1371.1 518.0,1365.7 521.3,1359.0 524.0,1362.2 526.6,1368.4 529.3,1371.2 532.0,1376.4 535.4,1367.0 538.7,1356.3 541.4,1363.9 544.1,1372.4 546.8,1375.5 549.5,1376.8 552.2,1380.5 555.3,1378.4 558.4,1373.6 561.5,1371.1 564.2,1375.2 566.9,1376.4 569.6,1380.5 572.3,1382.1 575.0,1380.4 577.6,1382.8 580.3,1381.4 583.0,1383.1 585.7,1368.2 588.4,1351.0 591.0,1348.8 593.7,1348.3 597.0,1356.1 600.4,1361.7 603.1,1356.9 605.8,1353.6 609.1,1366.4 612.5,1377.8 615.9,1379.9 619.2,1383.1 621.9,1376.8 624.6,1368.4 627.2,1378.6 629.9,1389.8 634.0,1393.9" fill="none" stroke="#ffb8e4" stroke-width="5.0" stroke-linejoin="round" stroke-linecap="round" />
<polyline points="98.2,1397.0 101.0,1398.4 103.9,1396.4 106.7,1397.4 109.6,1395.6 112.4,1397.0 113.9,1378.2 117.1,1318.3 119.5,1278.8 122.2,1243.9 125.0,1207.8 128.9,1192.0 132.1,1163.6 135.2,1050.0 137.9,1011.0 139.2,961.3 141.9,962.6 146.0,970.7 148.7,970.2 151.3,970.7 154.0,965.3 155.3,943.9 156.7,927.8 158.0,914.4 162.0,907.7 164.7,907.4 167.4,905.0 170.8,903.5 174.1,903.6 177.4,910.9 180.8,915.7 183.5,907.7 186.2,911.1 188.9,915.7 191.6,920.6 194.2,922.1 196.9,926.4 199.6,924.8 202.3,921.1 205.7,907.7 209.0,896.9 211.7,910.1 214.3,921.1 217.0,912.4 219.7,906.3 222.4,910.1 225.1,911.7 227.8,907.2 230.4,903.6 234.4,919.7 235.8,935.8 238.5,939.3 241.1,939.3 243.8,942.5 246.5,933.0 249.2,921.4 251.9,911.7 255.9,915.7 258.6,907.6 261.3,896.9 264.0,900.8 266.6,908.1 269.3,911.7 272.0,905.8 274.7,902.3 277.4,905.7 280.0,906.3 284.0,934.5 287.4,921.4 290.7,910.3 294.0,917.5 297.4,922.4 301.5,922.4 304.1,914.7 306.8,909.0 309.5,913.7 312.2,917.0 313.5,939.8 316.2,930.5 319.5,932.5 322.9,937.2 325.6,936.6 328.3,933.3 331.0,933.1 333.6,951.9 336.3,973.4 339.6,968.0 343.0,959.9 347.0,935.8 351.1,923.7 353.8,937.4 356.4,953.2 359.1,951.8 361.8,949.2 365.8,930.5 368.5,930.1 371.2,933.3 373.9,933.1 377.9,946.5 381.2,944.6 384.6,943.9 387.3,949.2 390.0,935.6 392.6,921.1 395.3,926.2 398.0,933.1 400.7,934.9 403.4,935.8 406.0,944.5 408.7,955.9 411.4,952.1 414.1,946.5 416.8,926.4 419.4,914.4 422.8,914.8 426.2,917.0 427.5,909.0 430.2,901.0 431.5,880.8 435.5,868.8 438.2,866.3 440.9,862.1 443.6,861.0 446.3,863.4 449.0,861.4 451.6,862.9 454.3,861.1 457.0,862.8 459.7,862.1 462.4,863.7 465.0,867.4 467.7,880.8 470.4,882.5 473.0,882.2 475.7,876.7 478.4,872.8 481.1,877.2 483.8,878.6 486.4,883.4 489.1,886.2 491.8,876.1 494.5,868.8 497.2,870.5 499.8,869.8 502.5,871.5 505.2,892.9 507.9,894.4 510.6,894.2 514.6,884.9 518.0,890.3 521.3,898.3 524.6,896.3 528.0,891.6 530.7,884.0 533.4,878.2 536.0,890.4 538.7,901.0 542.8,886.2 545.9,882.1 549.1,880.4 552.2,875.5 555.3,878.5 558.4,883.6 561.5,886.2 564.9,880.1 568.2,875.5 572.3,882.2 575.6,880.9 579.0,878.2 583.0,871.5 587.0,884.9 588.4,903.6 592.4,910.3 595.8,901.5 599.1,894.2 602.5,898.9 605.8,902.3 608.5,890.4 611.2,879.5 613.9,878.2 616.5,873.8 619.2,872.8 621.9,881.9 624.6,888.9 628.6,864.7 632.6,863.4" fill="none" stroke="#ff2a8c" stroke-width="5.2" stroke-linejoin="round" stroke-linecap="round" />
<clipPath id="cdots"><rect x="90" y="1385" width="560" height="11.6"/></clipPath>
<g clip-path="url(#cdots)" fill="#8a0c4c"><ellipse cx="102.0" cy="1396.4" rx="5.2" ry="5"/><ellipse cx="121.0" cy="1396.4" rx="5.2" ry="5"/><ellipse cx="140.1" cy="1396.4" rx="5.2" ry="5"/><ellipse cx="159.1" cy="1396.4" rx="5.2" ry="5"/><ellipse cx="178.2" cy="1396.4" rx="5.2" ry="5"/><ellipse cx="197.2" cy="1396.4" rx="5.2" ry="5"/><ellipse cx="216.2" cy="1396.4" rx="5.2" ry="5"/><ellipse cx="235.3" cy="1396.4" rx="5.2" ry="5"/><ellipse cx="254.3" cy="1396.4" rx="5.2" ry="5"/><ellipse cx="273.4" cy="1396.4" rx="5.2" ry="5"/><ellipse cx="292.4" cy="1396.4" rx="5.2" ry="5"/><ellipse cx="311.4" cy="1396.4" rx="5.2" ry="5"/><ellipse cx="330.5" cy="1396.4" rx="5.2" ry="5"/><ellipse cx="349.5" cy="1396.4" rx="5.2" ry="5"/><ellipse cx="368.6" cy="1396.4" rx="5.2" ry="5"/><ellipse cx="387.6" cy="1396.4" rx="5.2" ry="5"/><ellipse cx="406.6" cy="1396.4" rx="5.2" ry="5"/><ellipse cx="425.7" cy="1396.4" rx="5.2" ry="5"/><ellipse cx="444.7" cy="1396.4" rx="5.2" ry="5"/><ellipse cx="463.8" cy="1396.4" rx="5.2" ry="5"/><ellipse cx="482.8" cy="1396.4" rx="5.2" ry="5"/><ellipse cx="501.8" cy="1396.4" rx="5.2" ry="5"/><ellipse cx="520.9" cy="1396.4" rx="5.2" ry="5"/><ellipse cx="539.9" cy="1396.4" rx="5.2" ry="5"/><ellipse cx="559.0" cy="1396.4" rx="5.2" ry="5"/><ellipse cx="578.0" cy="1396.4" rx="5.2" ry="5"/><ellipse cx="597.0" cy="1396.4" rx="5.2" ry="5"/><ellipse cx="616.1" cy="1396.4" rx="5.2" ry="5"/></g>
<line x1="804.2" y1="1400.0" x2="1340.0" y2="1400.0" stroke="#cfcfcf" stroke-width="2.6" />
<line x1="804.2" y1="862.0" x2="804.2" y2="1400.0" stroke="#ababab" stroke-width="2.6" />
<line x1="804.2" y1="862.0" x2="808.2" y2="862.0" stroke="#ababab" stroke-width="1.8" />
<line x1="804.2" y1="969.6" x2="808.2" y2="969.6" stroke="#ababab" stroke-width="1.8" />
<line x1="804.2" y1="1077.2" x2="808.2" y2="1077.2" stroke="#ababab" stroke-width="1.8" />
<line x1="804.2" y1="1184.8" x2="808.2" y2="1184.8" stroke="#ababab" stroke-width="1.8" />
<line x1="804.2" y1="1292.4" x2="808.2" y2="1292.4" stroke="#ababab" stroke-width="1.8" />
<line x1="1072.1" y1="1400.0" x2="1072.1" y2="1396.0" stroke="#cfcfcf" stroke-width="1.8" />
<line x1="1340.0" y1="1400.0" x2="1340.0" y2="1396.0" stroke="#cfcfcf" stroke-width="1.8" />
<path d="M808.1,1398.0 C808.5,1391.7 809.6,1364.4 810.6,1359.9 C811.6,1355.4 812.9,1370.2 814.4,1371.2 C815.9,1372.2 818.0,1367.3 819.5,1366.2 C821.0,1365.1 822.0,1365.0 823.2,1364.6 C824.5,1364.1 825.6,1363.7 827.0,1363.7 C828.4,1363.7 830.0,1364.2 831.5,1364.6 C832.9,1365.1 834.6,1366.1 835.9,1366.2 C837.2,1366.3 838.1,1365.5 839.3,1365.3 C840.4,1365.0 841.5,1364.9 842.6,1364.7 C843.8,1364.4 844.9,1363.3 846.0,1363.7 C847.1,1364.1 848.1,1365.9 849.1,1367.2 C850.2,1368.4 851.0,1370.9 852.3,1371.2 C853.6,1371.5 855.2,1369.6 856.7,1369.0 C858.2,1368.4 859.5,1368.9 861.1,1367.4 C862.7,1365.9 864.7,1360.2 866.2,1359.9 C867.7,1359.6 868.7,1363.5 870.0,1365.3 C871.2,1367.2 872.5,1372.3 873.7,1371.2 C874.9,1370.1 875.9,1363.1 877.1,1358.8 C878.2,1354.6 879.3,1350.0 880.4,1345.7 C881.6,1341.5 882.4,1331.7 883.8,1333.4 C885.2,1335.1 887.5,1351.3 888.9,1356.1 C890.3,1360.9 890.9,1360.2 892.0,1362.1 C893.0,1364.1 894.0,1366.0 895.0,1367.9 C896.1,1369.8 897.0,1372.0 898.1,1373.6 C899.2,1375.2 900.5,1376.3 901.8,1377.8 C903.0,1379.2 904.2,1381.0 905.4,1382.5 C906.6,1384.1 907.8,1385.4 909.1,1386.9 C910.3,1388.4 911.5,1391.6 912.7,1391.4 C913.9,1391.2 914.9,1387.7 916.0,1385.9 C917.1,1384.2 918.1,1382.8 919.2,1381.0 C920.3,1379.2 921.4,1375.4 922.5,1375.2 C923.6,1375.0 924.7,1378.2 925.7,1379.7 C926.8,1381.3 927.9,1382.9 929.0,1384.5 C930.0,1386.2 931.0,1389.1 932.2,1389.8 C933.4,1390.5 934.7,1389.1 936.0,1388.5 C937.3,1388.0 938.5,1387.1 939.8,1386.5 C941.1,1385.9 942.3,1385.0 943.6,1384.9 C944.9,1384.8 946.1,1385.4 947.4,1385.8 C948.6,1386.1 949.9,1386.6 951.1,1387.0 C952.4,1387.4 953.7,1387.9 954.9,1388.2 C956.1,1388.5 957.1,1388.6 958.1,1388.9 C959.2,1389.2 960.3,1389.9 961.4,1390.2 C962.5,1390.4 963.6,1390.2 964.6,1390.4 C965.7,1390.6 966.8,1391.5 967.9,1391.4 C969.0,1391.3 970.1,1390.1 971.1,1389.5 C972.2,1389.0 973.3,1388.7 974.4,1388.2 C975.5,1387.7 976.6,1387.1 977.6,1386.6 C978.7,1386.0 979.8,1385.1 980.9,1384.9 C982.0,1384.7 983.1,1385.2 984.1,1385.3 C985.2,1385.3 986.3,1385.3 987.4,1385.2 C988.5,1385.1 989.6,1384.8 990.6,1384.8 C991.7,1384.7 992.7,1384.6 993.9,1384.9 C995.1,1385.2 996.4,1385.7 997.7,1386.3 C998.9,1386.9 1000.2,1387.9 1001.4,1388.4 C1002.7,1389.0 1004.0,1390.9 1005.2,1389.8 C1006.4,1388.7 1007.4,1384.8 1008.5,1382.1 C1009.6,1379.3 1010.6,1375.9 1011.7,1373.2 C1012.8,1370.4 1013.9,1366.2 1015.0,1365.4 C1016.1,1364.6 1017.2,1367.4 1018.2,1368.3 C1019.3,1369.3 1020.4,1370.3 1021.5,1371.2 C1022.5,1372.0 1023.5,1372.2 1024.7,1373.6 C1025.9,1375.0 1027.4,1377.5 1028.8,1379.4 C1030.1,1381.3 1031.6,1383.9 1032.8,1384.9 C1034.0,1385.9 1035.0,1385.2 1036.0,1385.5 C1037.1,1385.8 1038.2,1386.4 1039.3,1386.8 C1040.4,1387.1 1041.5,1387.3 1042.5,1387.6 C1043.6,1387.8 1044.7,1387.5 1045.8,1388.2 C1046.9,1388.9 1048.0,1390.7 1049.0,1392.0 C1050.1,1393.4 1051.2,1395.8 1052.3,1396.3 C1053.4,1396.8 1054.5,1395.4 1055.5,1394.8 C1056.6,1394.2 1057.7,1393.4 1058.8,1392.8 C1059.9,1392.2 1061.0,1391.6 1062.0,1391.1 C1063.1,1390.6 1064.2,1390.5 1065.3,1389.8 C1066.4,1389.1 1067.5,1387.9 1068.5,1387.0 C1069.6,1386.0 1070.7,1385.1 1071.8,1384.3 C1072.8,1383.4 1073.9,1383.2 1075.0,1381.7 C1076.1,1380.2 1077.2,1377.3 1078.2,1375.1 C1079.3,1373.0 1080.4,1367.9 1081.5,1368.7 C1082.6,1369.5 1083.7,1376.4 1084.8,1380.2 C1085.8,1384.0 1086.9,1389.5 1088.0,1391.4 C1089.1,1393.3 1090.2,1391.6 1091.2,1391.7 C1092.3,1391.7 1093.4,1391.8 1094.5,1391.8 C1095.6,1391.8 1096.7,1391.8 1097.8,1391.8 C1098.8,1391.7 1099.9,1391.6 1101.0,1391.4 C1102.1,1391.2 1103.2,1391.0 1104.2,1390.7 C1105.3,1390.4 1106.4,1389.9 1107.5,1389.5 C1108.5,1389.1 1109.6,1388.3 1110.7,1388.2 C1111.8,1388.1 1112.8,1388.8 1113.8,1389.1 C1114.8,1389.4 1115.9,1389.6 1116.9,1390.0 C1117.9,1390.4 1118.8,1391.5 1120.0,1391.3 C1121.2,1391.1 1122.7,1389.7 1124.1,1388.9 C1125.5,1388.1 1127.0,1387.1 1128.2,1386.3 C1129.4,1385.5 1130.4,1384.8 1131.5,1384.1 C1132.6,1383.4 1133.8,1382.8 1134.9,1382.0 C1136.0,1381.3 1137.1,1379.8 1138.2,1379.7 C1139.3,1379.6 1140.4,1380.9 1141.5,1381.6 C1142.6,1382.3 1143.7,1383.1 1144.8,1383.9 C1145.9,1384.6 1146.9,1385.9 1148.1,1386.3 C1149.3,1386.7 1150.7,1386.3 1152.0,1386.1 C1153.3,1385.9 1154.6,1385.5 1155.9,1385.3 C1157.2,1385.1 1158.6,1385.4 1159.8,1384.7 C1161.0,1384.0 1162.0,1382.3 1163.1,1381.0 C1164.2,1379.6 1165.3,1378.0 1166.4,1376.6 C1167.5,1375.3 1168.5,1373.2 1169.7,1373.1 C1170.9,1373.0 1172.3,1374.8 1173.6,1375.8 C1174.9,1376.8 1176.1,1378.0 1177.4,1379.0 C1178.7,1379.9 1180.0,1380.4 1181.3,1381.4 C1182.6,1382.4 1183.9,1383.7 1185.2,1384.8 C1186.5,1386.0 1187.7,1387.3 1189.0,1388.4 C1190.3,1389.5 1191.7,1390.8 1192.9,1391.3 C1194.1,1391.8 1195.1,1391.4 1196.2,1391.6 C1197.3,1391.8 1198.5,1392.2 1199.6,1392.4 C1200.7,1392.6 1201.8,1393.0 1202.9,1393.0 C1204.0,1393.0 1205.1,1392.7 1206.2,1392.4 C1207.3,1392.1 1208.4,1391.6 1209.5,1391.3 C1210.6,1391.0 1211.7,1391.0 1212.8,1390.8 C1213.9,1390.5 1215.0,1389.7 1216.1,1389.7 C1217.2,1389.7 1218.3,1390.4 1219.4,1390.6 C1220.5,1390.8 1221.6,1390.8 1222.8,1391.0 C1223.9,1391.3 1225.0,1391.5 1226.1,1391.9 C1227.2,1392.2 1228.3,1392.9 1229.4,1393.0 C1230.5,1393.1 1231.6,1392.9 1232.7,1392.6 C1233.8,1392.2 1234.9,1391.4 1236.1,1391.0 C1237.2,1390.7 1238.3,1390.5 1239.4,1390.3 C1240.5,1390.1 1241.5,1390.7 1242.7,1389.7 C1243.9,1388.7 1245.3,1386.2 1246.6,1384.6 C1247.9,1382.9 1249.1,1381.5 1250.4,1379.9 C1251.7,1378.2 1253.1,1375.1 1254.3,1374.7 C1255.5,1374.3 1256.5,1376.8 1257.6,1377.7 C1258.7,1378.7 1259.8,1379.3 1260.9,1380.2 C1262.0,1381.1 1263.0,1382.0 1264.2,1383.0 C1265.4,1384.0 1266.8,1385.2 1268.1,1386.3 C1269.4,1387.5 1270.6,1388.8 1271.9,1389.9 C1273.2,1391.0 1274.6,1392.7 1275.8,1393.0 C1277.0,1393.3 1278.0,1392.1 1279.1,1391.7 C1280.2,1391.3 1281.4,1391.0 1282.5,1390.7 C1283.6,1390.4 1284.6,1390.0 1285.8,1389.7 C1287.0,1389.4 1288.4,1389.0 1289.7,1388.7 C1291.0,1388.3 1292.2,1387.9 1293.5,1387.5 C1294.8,1387.1 1296.2,1386.4 1297.4,1386.3 C1298.6,1386.2 1299.6,1386.7 1300.7,1387.1 C1301.8,1387.4 1303.0,1387.8 1304.1,1388.3 C1305.2,1388.7 1306.2,1389.5 1307.4,1389.7 C1308.6,1389.9 1310.0,1389.4 1311.3,1389.4 C1312.6,1389.4 1313.8,1389.8 1315.1,1389.9 C1316.4,1389.9 1317.7,1389.8 1319.0,1389.7 C1320.3,1389.6 1321.6,1389.4 1322.9,1389.3 C1324.2,1389.2 1325.4,1389.2 1326.7,1388.9 C1328.0,1388.7 1329.4,1388.3 1330.6,1388.0 C1331.8,1387.7 1332.8,1387.6 1333.9,1387.4 C1335.0,1387.1 1336.7,1386.5 1337.2,1386.3" fill="none" stroke="#66f6f6" stroke-width="4.4" stroke-linejoin="round" stroke-linecap="round" />
<path d="M806.0,1397.0 C806.3,1380.8 807.0,1330.3 808.0,1300.0 C809.0,1269.7 810.9,1229.8 812.0,1215.0 C813.1,1200.2 813.1,1208.9 814.4,1210.9 C815.6,1213.0 817.8,1219.3 819.5,1227.3 C821.2,1235.3 823.1,1252.1 824.5,1258.9 C825.9,1265.7 826.6,1264.9 827.6,1268.0 C828.7,1271.2 829.6,1274.6 830.8,1277.8 C832.0,1281.0 833.3,1283.9 834.6,1287.0 C835.9,1290.2 837.2,1293.5 838.4,1296.7 C839.6,1299.9 840.5,1302.9 841.5,1306.0 C842.6,1309.2 843.5,1310.9 844.7,1315.7 C845.9,1320.5 847.5,1329.3 848.5,1334.6 C849.5,1339.8 849.7,1346.2 851.0,1347.2 C852.3,1348.2 854.7,1343.3 856.1,1340.9 C857.5,1338.5 858.2,1335.8 859.2,1333.0 C860.3,1330.3 861.4,1325.3 862.4,1324.5 C863.4,1323.7 864.5,1327.0 865.5,1328.3 C866.6,1329.6 867.7,1329.1 868.7,1332.1 C869.8,1335.1 870.8,1341.5 871.9,1346.2 C872.9,1350.8 873.8,1356.1 875.0,1359.9 C876.2,1363.7 877.5,1365.9 878.8,1369.0 C880.1,1372.2 881.4,1378.2 882.6,1378.8 C883.8,1379.4 884.7,1374.6 885.8,1372.5 C886.8,1370.4 887.8,1367.1 888.9,1366.2 C890.0,1365.3 891.3,1367.0 892.5,1367.3 C893.7,1367.6 894.9,1367.7 896.1,1367.9 C897.3,1368.1 898.6,1367.5 899.7,1368.7 C900.8,1369.9 901.9,1373.0 903.0,1375.0 C904.1,1377.0 905.1,1379.0 906.2,1380.9 C907.3,1382.8 908.4,1387.5 909.5,1386.5 C910.6,1385.5 911.7,1378.9 912.7,1375.1 C913.8,1371.2 914.9,1367.2 916.0,1363.4 C917.0,1359.7 918.1,1352.5 919.2,1352.5 C920.3,1352.5 921.4,1360.0 922.5,1363.5 C923.6,1367.1 924.6,1370.2 925.7,1373.8 C926.8,1377.4 927.8,1385.0 929.0,1384.9 C930.2,1384.8 931.5,1376.9 932.8,1373.1 C934.0,1369.4 935.3,1366.1 936.5,1362.4 C937.8,1358.6 939.1,1352.7 940.3,1350.8 C941.5,1348.9 942.7,1351.0 943.9,1351.1 C945.2,1351.1 946.4,1351.1 947.6,1351.1 C948.8,1351.1 950.0,1351.2 951.2,1351.2 C952.5,1351.1 953.7,1350.1 954.9,1350.8 C956.1,1351.5 957.1,1353.9 958.2,1355.4 C959.3,1357.0 960.3,1358.5 961.4,1360.2 C962.5,1361.9 963.6,1364.6 964.7,1365.4 C965.8,1366.2 966.9,1364.8 967.9,1364.8 C969.0,1364.7 970.1,1365.3 971.2,1365.1 C972.3,1365.0 973.3,1364.3 974.4,1364.1 C975.5,1363.9 976.6,1363.9 977.7,1363.8 C978.7,1363.8 979.8,1363.6 980.9,1363.8 C982.0,1364.0 983.1,1364.6 984.1,1365.0 C985.2,1365.5 986.3,1366.1 987.4,1366.7 C988.5,1367.2 989.6,1367.7 990.6,1368.3 C991.7,1368.9 992.8,1370.6 993.9,1370.3 C995.0,1370.0 996.1,1367.9 997.1,1366.6 C998.2,1365.4 999.3,1364.1 1000.4,1362.9 C1001.5,1361.7 1002.5,1360.6 1003.6,1359.5 C1004.7,1358.4 1005.8,1357.6 1006.9,1356.4 C1007.9,1355.2 1009.0,1352.6 1010.1,1352.5 C1011.2,1352.4 1012.3,1354.7 1013.4,1356.0 C1014.5,1357.3 1015.5,1359.0 1016.6,1360.3 C1017.7,1361.6 1018.8,1363.2 1019.9,1363.8 C1021.0,1364.4 1022.1,1364.0 1023.1,1364.0 C1024.2,1364.0 1025.3,1363.9 1026.4,1363.9 C1027.4,1363.8 1028.4,1363.3 1029.6,1363.8 C1030.8,1364.3 1032.1,1366.0 1033.4,1367.1 C1034.7,1368.3 1035.9,1369.5 1037.2,1370.5 C1038.5,1371.6 1039.8,1373.1 1041.0,1373.6 C1042.2,1374.1 1043.2,1373.5 1044.2,1373.3 C1045.3,1373.2 1046.4,1372.9 1047.5,1372.7 C1048.6,1372.6 1049.6,1372.6 1050.7,1372.4 C1051.8,1372.3 1052.9,1372.1 1054.0,1372.0 C1055.0,1371.9 1056.1,1373.0 1057.2,1371.9 C1058.3,1370.8 1059.4,1367.4 1060.5,1365.3 C1061.5,1363.3 1062.6,1361.5 1063.7,1359.3 C1064.8,1357.2 1065.9,1354.6 1067.0,1352.4 C1068.0,1350.2 1069.1,1345.5 1070.2,1346.0 C1071.3,1346.5 1072.4,1352.1 1073.4,1355.4 C1074.5,1358.6 1075.6,1362.1 1076.7,1365.4 C1077.7,1368.7 1078.7,1374.3 1079.9,1375.2 C1081.1,1376.1 1082.6,1372.2 1084.0,1370.6 C1085.3,1368.9 1086.7,1364.8 1088.0,1365.4 C1089.3,1366.0 1090.7,1371.3 1092.0,1374.3 C1093.4,1377.3 1094.7,1383.1 1096.1,1383.3 C1097.5,1383.5 1098.8,1378.1 1100.2,1375.4 C1101.6,1372.7 1103.1,1368.3 1104.3,1367.1 C1105.5,1365.9 1106.4,1367.8 1107.4,1368.3 C1108.5,1368.7 1109.5,1369.2 1110.6,1369.8 C1111.6,1370.4 1112.7,1371.3 1113.7,1371.8 C1114.8,1372.3 1115.8,1372.3 1116.9,1372.8 C1117.9,1373.3 1118.9,1374.8 1120.0,1374.7 C1121.1,1374.6 1122.2,1372.9 1123.3,1372.1 C1124.4,1371.3 1125.4,1372.4 1126.6,1369.8 C1127.8,1367.2 1129.4,1360.8 1130.8,1356.4 C1132.1,1352.0 1133.5,1343.2 1134.9,1343.2 C1136.3,1343.2 1137.7,1351.8 1139.1,1356.3 C1140.4,1360.7 1141.9,1367.1 1143.2,1369.8 C1144.5,1372.5 1145.8,1371.7 1147.1,1372.7 C1148.4,1373.8 1149.6,1374.8 1150.9,1376.0 C1152.2,1377.2 1153.5,1378.9 1154.8,1379.7 C1156.1,1380.5 1157.4,1380.4 1158.7,1380.6 C1160.0,1380.8 1161.2,1380.9 1162.5,1381.0 C1163.8,1381.1 1165.2,1381.8 1166.4,1381.4 C1167.6,1381.0 1168.6,1379.8 1169.7,1378.9 C1170.8,1377.9 1171.9,1376.6 1173.1,1375.6 C1174.2,1374.6 1175.3,1374.0 1176.4,1373.1 C1177.5,1372.1 1178.6,1369.3 1179.7,1369.8 C1180.8,1370.3 1181.9,1374.1 1183.0,1376.2 C1184.1,1378.2 1185.2,1380.1 1186.3,1382.0 C1187.4,1384.0 1188.4,1387.1 1189.6,1388.0 C1190.8,1388.9 1192.2,1387.6 1193.5,1387.5 C1194.8,1387.3 1196.0,1387.1 1197.3,1386.9 C1198.6,1386.7 1199.9,1386.7 1201.2,1386.3 C1202.5,1385.9 1203.7,1385.0 1204.9,1384.4 C1206.2,1383.9 1207.4,1383.4 1208.7,1382.9 C1209.9,1382.4 1211.1,1382.1 1212.4,1381.5 C1213.6,1381.0 1214.9,1379.9 1216.1,1379.7 C1217.3,1379.5 1218.3,1380.1 1219.4,1380.6 C1220.5,1381.0 1221.7,1381.8 1222.8,1382.2 C1223.9,1382.6 1224.9,1383.7 1226.1,1383.0 C1227.3,1382.3 1228.7,1379.7 1230.0,1378.0 C1231.3,1376.4 1232.5,1374.8 1233.8,1373.2 C1235.1,1371.5 1236.5,1368.1 1237.7,1368.1 C1238.9,1368.1 1239.9,1371.6 1241.0,1373.3 C1242.1,1375.0 1243.2,1376.5 1244.3,1378.2 C1245.4,1379.8 1246.4,1381.7 1247.6,1383.0 C1248.8,1384.3 1250.4,1384.9 1251.8,1386.1 C1253.1,1387.2 1254.6,1389.3 1255.9,1389.7 C1257.2,1390.1 1258.5,1388.8 1259.8,1388.4 C1261.1,1387.9 1262.3,1387.4 1263.6,1387.0 C1264.9,1386.7 1266.2,1387.3 1267.5,1386.3 C1268.8,1385.3 1270.3,1382.6 1271.7,1381.0 C1273.0,1379.3 1274.6,1376.8 1275.8,1376.4 C1277.0,1376.0 1278.0,1377.9 1279.1,1378.4 C1280.2,1379.0 1281.4,1379.3 1282.5,1379.8 C1283.6,1380.3 1284.6,1380.7 1285.8,1381.4 C1287.0,1382.1 1288.6,1383.4 1289.9,1384.2 C1291.3,1385.0 1292.7,1388.5 1294.1,1386.3 C1295.5,1384.1 1296.9,1376.0 1298.2,1370.8 C1299.6,1365.5 1301.0,1354.7 1302.4,1354.8 C1303.8,1354.9 1305.2,1365.7 1306.6,1371.3 C1307.9,1376.8 1309.3,1385.8 1310.7,1388.0 C1312.1,1390.2 1313.5,1385.6 1314.8,1384.2 C1316.2,1382.8 1317.8,1380.6 1319.0,1379.7 C1320.2,1378.8 1321.2,1379.2 1322.3,1378.8 C1323.4,1378.4 1324.5,1377.7 1325.6,1377.2 C1326.7,1376.6 1327.8,1376.0 1328.9,1375.6 C1330.0,1375.2 1331.1,1374.2 1332.2,1374.7 C1333.3,1375.2 1334.4,1377.3 1335.6,1378.7 C1336.7,1380.1 1338.3,1382.3 1338.9,1383.0" fill="none" stroke="#ff9cf6" stroke-width="4.4" stroke-linejoin="round" stroke-linecap="round" />
<path d="M805.5,1397.0 C805.8,1380.8 806.1,1335.7 807.0,1300.0 C807.9,1264.3 809.8,1198.8 810.6,1183.1 C811.4,1167.4 811.0,1203.7 811.9,1205.8 C812.8,1207.9 814.7,1197.8 815.7,1195.7 C816.8,1193.6 817.4,1191.7 818.2,1193.2 C819.0,1194.7 819.8,1199.6 820.7,1204.6 C821.6,1209.6 822.8,1216.9 823.9,1223.0 C824.9,1229.1 825.6,1236.9 827.0,1241.2 C828.4,1245.5 830.4,1248.8 832.1,1248.8 C833.8,1248.8 835.7,1241.4 837.1,1241.2 C838.5,1241.0 839.2,1245.5 840.2,1247.6 C841.3,1249.7 842.0,1250.2 843.4,1253.8 C844.8,1257.4 847.1,1265.6 848.5,1269.0 C849.9,1272.4 850.6,1272.6 851.6,1274.3 C852.7,1276.0 853.9,1273.3 854.8,1279.1 C855.7,1284.9 856.4,1301.6 857.3,1309.4 C858.1,1317.2 858.8,1320.5 859.9,1325.8 C861.0,1331.0 862.4,1339.0 863.6,1340.9 C864.9,1342.8 865.9,1339.2 867.4,1337.1 C868.9,1335.0 871.1,1327.9 872.5,1328.3 C873.9,1328.7 874.6,1335.7 875.6,1339.5 C876.7,1343.3 877.4,1346.3 878.8,1351.0 C880.2,1355.7 882.3,1367.2 883.8,1367.4 C885.3,1367.6 886.3,1357.4 887.6,1352.4 C888.9,1347.3 889.9,1339.5 891.4,1337.1 C892.9,1334.7 895.0,1336.4 896.5,1337.9 C898.0,1339.4 899.0,1343.6 900.3,1346.3 C901.6,1349.1 902.8,1351.8 904.1,1354.4 C905.4,1357.1 906.7,1361.5 907.9,1362.2 C909.1,1362.9 910.0,1359.8 911.1,1358.7 C912.2,1357.6 913.2,1355.8 914.3,1355.7 C915.4,1355.6 916.5,1357.5 917.5,1358.3 C918.6,1359.1 919.7,1359.9 920.8,1360.6 C921.9,1361.3 923.0,1361.8 924.1,1362.3 C925.2,1362.8 926.2,1363.3 927.3,1363.8 C928.4,1364.3 929.5,1365.3 930.6,1365.4 C931.7,1365.5 932.8,1364.7 933.8,1364.2 C934.9,1363.6 936.0,1362.8 937.1,1362.2 C938.1,1361.6 939.2,1360.8 940.3,1360.6 C941.4,1360.4 942.5,1360.9 943.6,1361.1 C944.7,1361.3 945.7,1361.8 946.8,1362.0 C947.9,1362.2 949.0,1361.3 950.1,1362.2 C951.2,1363.1 952.3,1365.6 953.3,1367.2 C954.4,1368.8 955.5,1370.2 956.6,1371.8 C957.6,1373.4 958.7,1377.1 959.8,1376.8 C960.9,1376.5 962.0,1372.3 963.0,1370.1 C964.1,1368.0 965.2,1365.9 966.3,1363.8 C967.3,1361.7 968.3,1357.8 969.5,1357.3 C970.7,1356.8 972.2,1359.6 973.5,1361.0 C974.9,1362.3 976.2,1365.6 977.6,1365.4 C979.0,1365.2 980.3,1361.7 981.7,1359.8 C983.1,1358.0 984.5,1353.9 985.8,1354.1 C987.1,1354.3 988.2,1358.6 989.4,1360.8 C990.7,1362.9 991.9,1364.9 993.1,1367.0 C994.3,1369.2 995.5,1371.7 996.8,1373.9 C998.0,1376.1 999.2,1379.4 1000.4,1380.1 C1001.6,1380.8 1002.9,1379.0 1004.2,1378.3 C1005.4,1377.6 1006.7,1376.6 1007.9,1375.8 C1009.2,1375.0 1010.5,1374.2 1011.7,1373.6 C1012.9,1373.0 1013.9,1372.7 1015.0,1372.1 C1016.1,1371.5 1017.1,1370.6 1018.2,1370.0 C1019.3,1369.5 1020.4,1370.7 1021.5,1368.7 C1022.6,1366.7 1023.7,1361.3 1024.8,1357.8 C1025.8,1354.3 1026.8,1347.4 1028.0,1347.6 C1029.2,1347.8 1030.5,1355.2 1031.8,1358.8 C1033.0,1362.4 1034.3,1365.5 1035.5,1369.1 C1036.8,1372.6 1038.0,1380.0 1039.3,1380.1 C1040.6,1380.2 1041.8,1373.0 1043.1,1369.6 C1044.4,1366.2 1045.6,1363.2 1046.9,1359.8 C1048.2,1356.4 1049.5,1349.0 1050.7,1349.2 C1051.9,1349.4 1052.9,1357.4 1053.9,1361.3 C1055.0,1365.2 1056.1,1368.8 1057.2,1372.7 C1058.2,1376.6 1059.3,1383.8 1060.4,1384.9 C1061.5,1386.0 1062.6,1381.2 1063.7,1379.4 C1064.8,1377.5 1065.8,1375.7 1066.9,1373.9 C1068.0,1372.1 1069.1,1369.2 1070.2,1368.7 C1071.3,1368.2 1072.4,1370.2 1073.5,1370.9 C1074.5,1371.7 1075.6,1372.3 1076.7,1373.2 C1077.8,1374.0 1078.9,1375.1 1080.0,1376.0 C1081.0,1376.9 1082.0,1378.2 1083.2,1378.4 C1084.4,1378.6 1085.7,1377.5 1087.0,1377.2 C1088.2,1376.8 1089.5,1376.5 1090.7,1376.2 C1092.0,1375.9 1093.3,1375.0 1094.5,1375.2 C1095.7,1375.4 1096.7,1376.6 1097.8,1377.4 C1098.8,1378.1 1099.9,1379.0 1101.0,1379.7 C1102.1,1380.5 1103.2,1381.2 1104.2,1382.1 C1105.3,1383.0 1106.4,1384.8 1107.5,1384.9 C1108.6,1385.0 1109.9,1383.6 1111.1,1382.9 C1112.3,1382.2 1113.5,1381.3 1114.7,1380.5 C1115.9,1379.7 1117.2,1379.2 1118.3,1378.0 C1119.4,1376.8 1120.5,1374.8 1121.6,1373.1 C1122.7,1371.4 1123.8,1369.4 1124.9,1367.8 C1126.0,1366.1 1127.1,1364.5 1128.2,1363.1 C1129.3,1361.7 1130.4,1360.6 1131.6,1359.5 C1132.7,1358.4 1133.7,1356.1 1134.9,1356.5 C1136.1,1356.9 1137.5,1359.9 1138.8,1361.7 C1140.1,1363.5 1141.3,1365.5 1142.6,1367.4 C1143.9,1369.3 1145.2,1371.9 1146.5,1373.1 C1147.8,1374.3 1149.1,1373.9 1150.4,1374.4 C1151.7,1374.9 1152.9,1375.6 1154.2,1376.2 C1155.5,1376.8 1156.8,1377.2 1158.1,1378.0 C1159.4,1378.8 1160.9,1380.0 1162.2,1381.1 C1163.6,1382.2 1165.2,1383.7 1166.4,1384.7 C1167.6,1385.7 1168.6,1386.3 1169.7,1387.2 C1170.8,1388.2 1171.9,1389.4 1173.0,1390.4 C1174.1,1391.3 1175.2,1393.3 1176.3,1393.0 C1177.4,1392.7 1178.5,1390.2 1179.7,1388.8 C1180.8,1387.4 1181.9,1385.4 1183.0,1384.7 C1184.1,1384.0 1185.2,1384.7 1186.3,1384.7 C1187.4,1384.7 1188.5,1384.6 1189.6,1384.6 C1190.7,1384.6 1191.8,1385.0 1192.9,1384.7 C1194.0,1384.4 1195.1,1383.3 1196.2,1382.7 C1197.3,1382.0 1198.4,1381.5 1199.6,1380.8 C1200.7,1380.1 1201.8,1379.1 1202.9,1378.3 C1204.0,1377.6 1205.1,1376.2 1206.2,1376.4 C1207.3,1376.6 1208.4,1378.3 1209.5,1379.4 C1210.6,1380.5 1211.7,1381.8 1212.8,1383.0 C1213.9,1384.1 1215.0,1385.9 1216.1,1386.3 C1217.2,1386.7 1218.3,1385.6 1219.4,1385.4 C1220.5,1385.1 1221.6,1385.2 1222.8,1384.9 C1223.9,1384.6 1225.0,1383.8 1226.1,1383.5 C1227.2,1383.2 1228.3,1383.1 1229.4,1383.0 C1230.5,1382.9 1231.6,1383.1 1232.7,1382.9 C1233.8,1382.7 1234.9,1382.0 1236.1,1381.8 C1237.2,1381.6 1238.3,1381.9 1239.4,1381.8 C1240.5,1381.8 1241.6,1381.6 1242.7,1381.4 C1243.8,1381.2 1244.9,1381.0 1246.0,1380.8 C1247.1,1380.6 1248.2,1380.3 1249.3,1380.1 C1250.4,1379.9 1251.5,1379.1 1252.6,1379.7 C1253.7,1380.3 1254.8,1382.6 1255.9,1383.9 C1257.0,1385.2 1258.2,1386.4 1259.3,1387.6 C1260.4,1388.8 1261.4,1391.3 1262.6,1391.3 C1263.8,1391.3 1265.2,1388.8 1266.5,1387.7 C1267.8,1386.6 1269.0,1385.8 1270.3,1384.7 C1271.6,1383.6 1273.0,1382.5 1274.2,1381.4 C1275.4,1380.3 1276.4,1379.3 1277.5,1378.1 C1278.6,1377.0 1279.7,1376.6 1280.8,1374.7 C1281.9,1372.8 1283.0,1369.4 1284.1,1366.9 C1285.2,1364.4 1286.3,1359.5 1287.4,1359.8 C1288.5,1360.1 1289.6,1365.5 1290.8,1368.6 C1291.9,1371.6 1292.8,1375.4 1294.1,1378.0 C1295.3,1380.6 1296.9,1382.0 1298.2,1383.9 C1299.6,1385.9 1301.0,1390.6 1302.4,1389.7 C1303.8,1388.8 1305.2,1382.1 1306.6,1378.2 C1307.9,1374.4 1309.5,1366.7 1310.7,1366.4 C1311.9,1366.1 1312.9,1373.0 1314.0,1376.3 C1315.1,1379.6 1316.1,1384.9 1317.3,1386.3 C1318.5,1387.7 1320.1,1385.1 1321.4,1384.6 C1322.8,1384.0 1324.4,1383.4 1325.6,1383.0 C1326.8,1382.6 1327.8,1382.3 1328.9,1381.9 C1330.0,1381.5 1331.1,1381.0 1332.2,1380.6 C1333.3,1380.2 1335.0,1379.9 1335.5,1379.7" fill="none" stroke="#0c1898" stroke-width="4.4" stroke-linejoin="round" stroke-linecap="round" />
<polyline points="805.0,1397.7 805.3,1151.6 808.5,1240.0 811.9,1309.4 814.0,1295.0" fill="none" stroke="#ff2200" stroke-width="4.6" stroke-linejoin="round" stroke-linecap="round" />
<path d="M811.9,1309.4 C812.8,1304.1 815.3,1290.4 817.0,1277.8 C818.7,1265.2 820.5,1245.2 822.0,1233.6 C823.5,1222.0 824.5,1217.9 825.8,1208.4 C827.1,1198.9 828.1,1183.1 829.6,1176.8 C831.1,1170.5 832.9,1174.7 834.6,1170.5 C836.3,1166.3 838.2,1157.9 839.7,1151.6 C841.2,1145.3 842.5,1142.6 843.4,1132.6 C844.3,1122.5 844.3,1102.2 845.0,1091.3 C845.7,1080.4 846.5,1071.5 847.5,1067.0 C848.5,1062.5 849.9,1065.7 851.1,1064.5 C852.3,1063.3 853.8,1063.2 854.8,1059.6 C855.8,1055.9 856.4,1047.9 857.2,1042.6 C858.0,1037.3 858.6,1029.6 859.6,1028.0 C860.6,1026.4 862.1,1031.8 863.3,1032.9 C864.5,1034.0 865.7,1034.1 867.0,1034.7 C868.2,1035.3 869.6,1039.3 870.6,1036.5 C871.6,1033.7 872.2,1026.3 873.0,1018.2 C873.8,1010.1 874.5,995.3 875.5,987.8 C876.5,980.3 877.9,975.0 879.1,973.2 C880.3,971.4 881.4,973.9 882.8,976.9 C884.2,979.9 886.2,988.7 887.6,991.5 C889.0,994.3 890.0,993.2 891.2,994.0 C892.5,994.8 893.5,997.3 894.9,996.3 C896.3,995.3 898.4,993.3 899.8,987.8 C901.2,982.3 902.3,972.6 903.5,963.5 C904.7,954.4 905.9,938.7 907.1,933.0 C908.3,927.3 909.6,928.6 910.8,929.4 C912.0,930.2 913.3,934.3 914.4,937.9 C915.5,941.5 916.4,946.7 917.5,951.0 C918.5,955.2 919.2,960.6 920.5,963.5 C921.8,966.4 924.0,970.1 925.4,968.3 C926.8,966.5 927.8,958.0 929.0,952.5 C930.2,947.0 931.3,936.3 932.7,935.5 C934.1,934.7 936.0,942.9 937.6,947.6 C939.2,952.3 941.1,961.3 942.4,963.5 C943.7,965.7 944.6,961.9 945.7,961.0 C946.8,960.0 947.8,959.1 948.9,958.1 C950.0,957.1 951.1,955.6 952.2,954.9 C953.3,954.2 954.3,954.3 955.4,954.0 C956.4,953.7 957.0,955.8 958.5,953.3 C960.0,950.8 962.6,941.0 964.1,939.2 C965.6,937.4 966.3,941.4 967.4,942.4 C968.5,943.3 969.6,943.9 970.7,944.7 C971.8,945.6 972.8,948.5 974.0,947.6 C975.2,946.7 977.0,939.8 978.2,939.2 C979.5,938.6 980.4,942.5 981.5,944.2 C982.6,945.9 983.7,947.5 984.8,949.2 C985.9,951.0 986.6,956.6 988.1,954.7 C989.6,952.8 992.1,942.1 993.8,937.7 C995.4,933.3 996.6,931.6 998.0,928.6 C999.4,925.5 1000.6,918.6 1002.2,919.4 C1003.9,920.2 1006.0,924.6 1007.9,933.5 C1009.8,942.4 1012.0,967.9 1013.5,973.0 C1015.0,978.1 1015.9,967.1 1017.0,964.3 C1018.2,961.5 1019.3,955.8 1020.6,956.1 C1021.9,956.4 1023.4,962.5 1024.8,965.8 C1026.2,969.1 1027.3,978.9 1029.0,975.9 C1030.7,972.9 1032.8,956.8 1034.7,947.6 C1036.6,938.4 1038.8,924.1 1040.3,920.8 C1041.8,917.5 1042.5,925.6 1043.6,928.0 C1044.7,930.3 1045.8,932.8 1046.9,935.2 C1048.0,937.5 1048.9,943.4 1050.2,942.0 C1051.5,940.6 1053.0,931.9 1054.5,926.7 C1055.9,921.5 1057.4,912.7 1058.7,911.0 C1060.0,909.3 1061.0,914.4 1062.2,916.3 C1063.4,918.1 1064.2,914.1 1065.7,922.2 C1067.2,930.3 1069.7,958.8 1071.4,964.6 C1073.1,970.4 1074.2,959.5 1075.7,957.2 C1077.1,954.8 1078.3,955.9 1079.9,950.5 C1081.5,945.1 1083.6,930.0 1085.5,925.0 C1087.4,920.0 1089.2,924.1 1091.1,920.8 C1093.0,917.5 1095.3,905.3 1096.8,905.3 C1098.3,905.3 1099.1,915.4 1100.3,920.6 C1101.5,925.8 1102.6,936.5 1103.8,936.3 C1105.0,936.1 1106.2,925.1 1107.3,919.4 C1108.5,913.8 1109.6,904.0 1110.9,902.5 C1112.2,901.0 1113.7,907.9 1115.2,910.5 C1116.6,913.1 1117.8,917.7 1119.4,918.0 C1121.0,918.3 1123.3,908.5 1125.0,912.3 C1126.7,916.1 1127.6,929.1 1129.3,940.6 C1131.0,952.1 1133.4,978.1 1134.9,981.5 C1136.4,984.9 1137.3,968.1 1138.5,961.3 C1139.6,954.5 1140.7,946.0 1142.0,940.6 C1143.3,935.2 1144.9,932.9 1146.3,928.9 C1147.7,924.9 1148.9,918.8 1150.6,916.5 C1152.3,914.2 1154.4,916.4 1156.3,915.0 C1158.2,913.6 1160.0,908.2 1161.9,908.0 C1163.8,907.8 1166.1,912.9 1167.6,913.6 C1169.1,914.3 1169.9,912.7 1171.1,912.3 C1172.3,911.8 1173.3,909.6 1174.6,910.8 C1175.9,912.0 1177.4,916.5 1178.8,919.4 C1180.3,922.2 1181.4,928.2 1183.1,927.7 C1184.8,927.2 1187.1,923.1 1188.8,916.5 C1190.5,909.9 1191.4,892.4 1193.0,888.2 C1194.6,884.0 1196.7,888.3 1198.6,891.1 C1200.5,893.9 1202.4,903.8 1204.3,905.2 C1206.2,906.6 1208.2,903.5 1209.9,899.5 C1211.6,895.5 1212.9,883.1 1214.2,881.2 C1215.5,879.3 1216.5,885.7 1217.7,888.1 C1218.9,890.4 1219.9,890.8 1221.2,895.3 C1222.5,899.8 1223.8,911.5 1225.5,915.0 C1227.2,918.5 1229.2,914.1 1231.1,916.5 C1233.0,918.9 1235.1,929.6 1236.7,929.2 C1238.3,928.8 1239.5,919.2 1241.0,914.2 C1242.4,909.3 1243.5,899.6 1245.2,899.5 C1246.9,899.4 1249.2,912.0 1250.9,913.6 C1252.6,915.2 1253.7,910.6 1255.1,909.2 C1256.5,907.8 1257.9,906.7 1259.3,905.2 C1260.7,903.7 1262.1,901.9 1263.5,900.3 C1265.0,898.6 1266.2,894.7 1267.8,895.3 C1269.4,895.9 1271.8,902.9 1273.4,903.8 C1275.1,904.7 1276.3,899.5 1277.7,900.9 C1279.1,902.3 1280.2,906.6 1281.9,912.2 C1283.6,917.9 1285.9,934.1 1287.6,934.8 C1289.2,935.5 1290.4,922.7 1291.8,916.5 C1293.2,910.4 1294.6,898.1 1296.0,898.1 C1297.4,898.1 1298.8,910.4 1300.2,916.5 C1301.7,922.6 1302.9,933.6 1304.5,934.8 C1306.1,936.0 1308.6,927.6 1310.1,923.5 C1311.6,919.4 1312.5,914.5 1313.7,910.0 C1314.8,905.5 1315.9,897.5 1317.2,896.7 C1318.5,895.9 1320.0,902.3 1321.5,905.1 C1322.9,907.9 1324.1,911.0 1325.7,913.6 C1327.3,916.2 1329.4,920.0 1331.3,920.7 C1333.2,921.4 1335.6,921.2 1337.0,917.9 C1338.4,914.6 1339.3,903.7 1339.8,900.9" fill="none" stroke="#ff2200" stroke-width="4.6" stroke-linejoin="round" stroke-linecap="round" />
<circle cx="1030.6" cy="1072.5" r="30.0" fill="none" stroke="#ff0000" stroke-width="5"/>
<circle cx="1173.9" cy="1072.6" r="30.5" fill="none" stroke="#ff99ff" stroke-width="4.5"/>
<rect x="992.3" y="1173.3" width="220.5" height="84.8" rx="7" fill="none" stroke="#5a5a5a" stroke-width="2.4"/>
<circle cx="1030.2" cy="1214.8" r="30.0" fill="none" stroke="#000099" stroke-width="5"/>
<circle cx="1173.6" cy="1214.5" r="30.5" fill="none" stroke="#00ffff" stroke-width="5.5"/>
<line x1="973.5" y1="1196.2" x2="1002.0" y2="1196.2" stroke="#aaaaaa" stroke-width="3" />
<line x1="1244.3" y1="1166.5" x2="1196.0" y2="1195.2" stroke="#aaaaaa" stroke-width="3" />
<line x1="1000.2" y1="1071.2" x2="920.4" y2="1014.5" stroke="#111" stroke-width="2.8" />
<polygon points="902.5,1001.8 927.6,1008.0 916.6,1023.4" fill="#111"/>
<line x1="1001.3" y1="1231.9" x2="880.6" y2="1272.6" stroke="#111" stroke-width="2.8" />
<polygon points="860.7,1279.3 879.3,1262.5 885.7,1281.4" fill="#111"/>
<line x1="1153.7" y1="1096.0" x2="1082.9" y2="1318.4" stroke="#111" stroke-width="2.8" />
<polygon points="1076.5,1338.4 1074.0,1313.4 1093.0,1319.5" fill="#111"/>
<line x1="1173.8" y1="1247.0" x2="1146.1" y2="1358.3" stroke="#111" stroke-width="2.8" />
<polygon points="1141.0,1378.7 1136.9,1354.0 1156.3,1358.8" fill="#111"/>
<line x1="99.0" y1="2130.9" x2="636.0" y2="2130.9" stroke="#d4d4d4" stroke-width="2.6" />
<line x1="99.0" y1="1593.7" x2="99.0" y2="2130.9" stroke="#ababab" stroke-width="2.6" />
<line x1="99.0" y1="1593.7" x2="103.0" y2="1593.7" stroke="#ababab" stroke-width="1.8" />
<line x1="99.0" y1="1772.7" x2="103.0" y2="1772.7" stroke="#ababab" stroke-width="1.8" />
<line x1="99.0" y1="1951.7" x2="103.0" y2="1951.7" stroke="#ababab" stroke-width="1.8" />
<line x1="367.5" y1="2130.9" x2="367.5" y2="2126.9" stroke="#d4d4d4" stroke-width="1.8" />
<line x1="636.0" y1="2130.9" x2="636.0" y2="2126.9" stroke="#d4d4d4" stroke-width="1.8" />
<clipPath id="ce"><rect x="99" y="1593" width="540" height="540"/></clipPath>
<g clip-path="url(#ce)">
<path d="M104.4,2009.2 C105.1,2003.4 107.1,1984.6 108.4,1974.3 C109.7,1964.0 111.7,1953.8 112.4,1947.5 C113.1,1941.2 111.5,1941.9 112.4,1936.8 C113.3,1931.7 116.2,1918.9 117.8,1916.7 C119.4,1914.5 120.5,1923.3 121.8,1923.4 C123.1,1923.5 124.2,1919.2 125.4,1917.0 C126.6,1914.9 127.7,1912.7 128.9,1910.7 C130.1,1908.6 131.3,1905.0 132.5,1904.6 C133.7,1904.2 134.7,1907.0 135.8,1908.4 C137.0,1909.8 138.1,1911.6 139.2,1913.0 C140.3,1914.4 141.4,1915.5 142.6,1916.7 C143.7,1918.0 144.8,1920.6 145.9,1920.7 C147.0,1920.8 148.1,1918.6 149.2,1917.5 C150.4,1916.4 151.5,1914.2 152.6,1914.0 C153.7,1913.8 154.8,1915.4 155.9,1916.0 C157.1,1916.7 158.2,1921.9 159.3,1918.0 C160.4,1914.1 161.5,1900.9 162.7,1892.4 C163.8,1883.9 164.8,1877.9 166.0,1867.0 C167.2,1856.1 168.6,1834.3 170.1,1826.8 C171.6,1819.3 173.2,1821.3 175.0,1822.0 C176.8,1822.7 179.0,1824.5 180.8,1830.8 C182.6,1837.1 184.2,1849.5 186.0,1860.0 C187.8,1870.5 189.9,1881.6 191.5,1893.9 C193.1,1906.2 193.9,1917.3 195.5,1934.1 C197.1,1950.8 199.3,1982.6 200.9,1994.4 C202.5,2006.2 203.6,2001.8 204.9,2005.1 C206.2,2008.4 207.7,2012.8 209.0,2014.5 C210.3,2016.2 211.4,2015.3 212.6,2015.6 C213.8,2015.9 214.9,2016.1 216.1,2016.4 C217.3,2016.6 218.4,2017.9 219.7,2017.2 C221.0,2016.5 222.4,2013.9 223.7,2012.1 C225.0,2010.3 226.1,2006.1 227.7,2006.5 C229.3,2006.9 231.5,2009.1 233.1,2014.5 C234.7,2019.9 235.9,2034.1 237.1,2038.7 C238.3,2043.3 239.2,2040.9 240.2,2041.9 C241.3,2043.0 242.3,2044.2 243.4,2045.2 C244.4,2046.2 245.3,2046.5 246.5,2048.0 C247.7,2049.5 249.2,2052.0 250.5,2054.0 C251.8,2056.0 253.2,2059.8 254.5,2060.1 C255.8,2060.4 257.2,2057.2 258.6,2055.8 C259.9,2054.5 261.4,2052.7 262.6,2052.1 C263.8,2051.5 264.7,2052.1 265.7,2052.3 C266.8,2052.4 267.8,2053.0 268.9,2053.1 C269.9,2053.3 271.0,2054.7 272.0,2053.4 C273.0,2052.1 274.1,2048.0 275.1,2045.5 C276.2,2043.0 277.2,2040.8 278.3,2038.3 C279.3,2035.8 280.3,2031.2 281.4,2030.6 C282.5,2030.0 283.5,2032.5 285.0,2034.5 C286.5,2036.5 288.6,2044.8 290.4,2042.6 C292.2,2040.4 294.3,2026.8 295.7,2021.1 C297.1,2015.4 297.9,2012.7 299.0,2008.5 C300.2,2004.3 301.3,1998.1 302.4,1995.7 C303.5,1993.3 304.6,1994.4 305.8,1994.0 C306.9,1993.5 308.0,1994.6 309.1,1993.0 C310.2,1991.4 311.3,1987.4 312.5,1984.5 C313.6,1981.6 314.3,1973.9 315.8,1975.5 C317.3,1977.1 319.6,1988.3 321.2,1994.3 C322.8,2000.3 323.9,2005.6 325.2,2011.4 C326.5,2017.2 328.0,2023.3 329.2,2029.2 C330.4,2035.1 331.5,2041.1 332.6,2046.9 C333.7,2052.7 334.6,2057.3 336.0,2064.0 C337.4,2070.7 339.9,2082.7 341.3,2086.8 C342.7,2090.9 343.4,2088.3 344.4,2088.9 C345.5,2089.4 346.5,2089.6 347.6,2090.2 C348.6,2090.7 349.6,2094.4 350.7,2092.2 C351.8,2090.0 352.9,2082.1 354.0,2077.0 C355.2,2071.8 356.2,2070.7 357.4,2061.4 C358.6,2052.1 360.2,2028.7 361.4,2021.1 C362.6,2013.5 363.6,2017.7 364.8,2015.9 C365.9,2014.2 367.0,2011.2 368.1,2010.4 C369.2,2009.6 370.2,2010.7 371.2,2011.0 C372.3,2011.3 373.3,2012.0 374.4,2012.3 C375.4,2012.7 376.1,2010.5 377.5,2013.1 C378.9,2015.7 381.1,2020.2 382.9,2027.8 C384.7,2035.4 386.8,2052.5 388.2,2058.7 C389.6,2064.9 390.5,2062.9 391.6,2065.1 C392.7,2067.3 393.8,2070.7 395.0,2072.1 C396.2,2073.5 397.4,2073.0 398.6,2073.3 C399.8,2073.7 400.9,2073.8 402.1,2074.1 C403.3,2074.3 404.6,2074.5 405.7,2074.8 C406.8,2075.1 407.8,2075.8 408.8,2076.1 C409.9,2076.3 410.9,2076.0 412.0,2076.2 C413.0,2076.4 413.9,2079.9 415.1,2077.4 C416.3,2074.9 417.8,2065.5 419.1,2061.4 C420.4,2057.3 421.8,2055.4 423.1,2052.5 C424.4,2049.6 425.9,2045.8 427.1,2043.9 C428.3,2042.0 429.1,2042.2 430.1,2041.3 C431.1,2040.4 432.1,2039.6 433.1,2038.6 C434.2,2037.7 435.2,2036.5 436.2,2035.6 C437.2,2034.7 438.2,2032.8 439.2,2033.2 C440.2,2033.6 441.3,2036.4 442.3,2038.0 C443.4,2039.5 444.4,2041.0 445.5,2042.4 C446.5,2043.8 447.2,2046.6 448.6,2046.6 C450.0,2046.6 452.1,2045.5 453.9,2042.6 C455.7,2039.7 457.7,2033.3 459.3,2029.2 C460.9,2025.1 462.0,2021.9 463.4,2018.3 C464.7,2014.7 466.0,2009.7 467.4,2007.7 C468.8,2005.7 470.4,2004.9 471.6,2006.2 C472.8,2007.5 473.6,2012.4 474.6,2015.7 C475.7,2018.9 476.5,2021.0 477.7,2025.7 C478.9,2030.4 480.5,2038.0 481.9,2044.0 C483.4,2050.1 485.0,2057.1 486.2,2062.1 C487.4,2067.1 488.2,2070.1 489.2,2074.2 C490.3,2078.2 491.1,2083.4 492.3,2086.4 C493.5,2089.4 495.1,2090.2 496.6,2092.0 C498.0,2093.8 499.6,2096.8 500.8,2097.3 C502.0,2097.8 502.8,2095.7 503.8,2094.8 C504.8,2094.0 505.7,2094.6 506.8,2092.4 C507.9,2090.2 509.2,2085.0 510.5,2081.4 C511.7,2077.8 512.8,2073.5 514.1,2070.6 C515.4,2067.7 516.9,2066.2 518.4,2064.1 C519.8,2062.1 521.4,2060.1 522.6,2058.4 C523.8,2056.7 524.8,2055.2 525.8,2053.7 C526.9,2052.2 528.0,2050.9 529.1,2049.5 C530.1,2048.1 531.3,2046.6 532.3,2045.1 C533.3,2043.6 534.3,2042.0 535.3,2040.4 C536.4,2038.8 537.4,2037.6 538.4,2035.4 C539.4,2033.2 540.4,2030.1 541.5,2027.4 C542.5,2024.8 543.3,2021.9 544.5,2019.6 C545.7,2017.3 547.3,2015.8 548.8,2013.7 C550.2,2011.7 551.8,2007.0 553.0,2007.5 C554.2,2008.0 555.0,2013.6 556.0,2016.6 C557.0,2019.7 557.9,2019.1 559.0,2025.7 C560.1,2032.3 561.6,2049.9 562.7,2056.0 C563.8,2062.1 564.7,2060.4 565.8,2062.4 C566.8,2064.4 567.8,2065.7 568.8,2068.2 C569.8,2070.7 570.8,2074.4 571.8,2077.4 C572.8,2080.5 573.8,2084.9 574.8,2086.4 C575.8,2087.9 576.8,2086.3 577.8,2086.3 C578.9,2086.3 579.8,2087.0 580.9,2086.4 C582.0,2085.8 583.3,2083.7 584.5,2082.5 C585.8,2081.2 586.9,2079.6 588.2,2079.1 C589.5,2078.6 591.0,2079.2 592.5,2079.4 C593.9,2079.6 595.4,2079.6 596.7,2080.3 C598.0,2081.0 599.1,2082.4 600.4,2083.6 C601.6,2084.8 602.9,2087.0 604.0,2087.6 C605.1,2088.2 606.0,2087.5 607.0,2087.3 C608.0,2087.1 609.0,2087.1 610.0,2086.4 C611.0,2085.7 612.0,2084.3 613.0,2083.0 C614.1,2081.8 615.1,2080.9 616.1,2079.1 C617.1,2077.3 618.1,2074.4 619.2,2072.0 C620.2,2069.6 621.1,2067.2 622.2,2064.5 C623.3,2061.8 624.4,2057.4 625.8,2056.0 C627.2,2054.6 629.9,2056.0 630.7,2056.0" fill="none" stroke="#66f6f6" stroke-width="4.6" stroke-linejoin="round" stroke-linecap="round" />
<path d="M138.8,1580.0 C138.9,1582.6 139.1,1587.0 139.2,1595.4 C139.3,1603.8 138.8,1615.5 139.2,1630.2 C139.6,1645.0 141.0,1668.2 141.9,1683.9 C142.8,1699.6 143.5,1713.1 144.6,1724.1 C145.7,1735.0 147.3,1749.6 148.6,1749.6 C149.9,1749.6 151.2,1735.0 152.6,1724.1 C153.9,1713.1 155.1,1692.8 156.7,1683.9 C158.3,1675.0 160.4,1668.3 162.0,1670.5 C163.6,1672.7 164.9,1683.9 166.0,1697.3 C167.1,1710.7 167.8,1733.0 168.7,1750.9 C169.6,1768.8 170.7,1780.7 171.4,1804.5 C172.1,1828.3 171.8,1875.0 172.7,1893.9 C173.6,1912.8 175.4,1910.1 176.8,1918.1 C178.1,1926.1 179.2,1943.9 180.8,1942.1 C182.4,1940.3 184.9,1914.0 186.2,1907.3 C187.5,1900.6 187.8,1900.2 188.8,1901.9 C189.8,1903.6 191.0,1912.3 192.2,1917.6 C193.3,1923.0 194.3,1926.0 195.5,1934.1 C196.7,1942.2 198.2,1955.4 199.6,1966.1 C200.9,1976.8 202.5,1995.9 203.6,1998.4 C204.7,2000.9 205.2,1991.7 206.3,1981.0 C207.4,1970.3 208.7,1949.5 210.3,1934.1 C211.9,1918.7 213.9,1893.0 215.7,1888.5 C217.5,1884.0 219.2,1897.9 221.0,1907.3 C222.8,1916.7 224.6,1947.0 226.4,1944.8 C228.2,1942.6 230.1,1907.5 231.7,1893.9 C233.3,1880.3 234.4,1873.5 235.8,1863.5 C237.1,1853.4 238.6,1838.9 239.8,1833.5 C241.0,1828.1 242.0,1831.9 243.2,1831.0 C244.3,1830.2 245.3,1828.0 246.5,1828.2 C247.7,1828.4 249.2,1831.0 250.5,1832.3 C251.8,1833.7 252.9,1830.4 254.5,1836.2 C256.1,1842.0 258.1,1855.2 259.9,1867.0 C261.7,1878.8 263.7,1898.7 265.3,1907.3 C266.9,1915.9 268.0,1914.7 269.3,1918.3 C270.6,1921.9 271.7,1929.0 273.3,1928.7 C274.9,1928.4 277.3,1918.4 278.7,1916.7 C280.1,1915.0 280.8,1917.7 281.9,1918.3 C282.9,1919.0 284.0,1920.0 285.0,1920.6 C286.0,1921.2 287.1,1921.5 288.1,1921.9 C289.2,1922.3 290.2,1922.4 291.3,1922.9 C292.3,1923.3 293.3,1927.5 294.4,1924.6 C295.5,1921.7 296.6,1911.8 297.8,1905.6 C298.9,1899.3 300.0,1893.4 301.1,1887.0 C302.2,1880.6 303.3,1873.6 304.5,1866.9 C305.6,1860.2 306.7,1850.3 307.8,1846.8 C308.9,1843.3 310.0,1846.0 311.1,1845.8 C312.3,1845.6 313.0,1840.9 314.5,1845.5 C316.0,1850.1 318.3,1865.6 319.9,1873.6 C321.5,1881.6 322.6,1886.8 323.9,1893.5 C325.2,1900.2 326.7,1907.6 327.9,1913.9 C329.1,1920.2 330.1,1925.6 331.2,1931.4 C332.4,1937.2 333.4,1943.6 334.6,1948.7 C335.8,1953.8 337.0,1961.9 338.6,1962.1 C340.2,1962.3 342.5,1952.4 344.0,1950.1 C345.5,1947.8 346.2,1948.8 347.4,1948.1 C348.5,1947.4 349.6,1951.3 350.7,1946.0 C351.8,1940.7 352.9,1926.1 354.0,1916.3 C355.2,1906.4 356.3,1894.7 357.4,1887.0 C358.5,1879.3 359.6,1875.9 360.8,1870.3 C361.9,1864.7 363.0,1854.0 364.1,1853.5 C365.2,1853.0 366.3,1862.7 367.5,1867.1 C368.6,1871.6 369.7,1874.3 370.8,1880.3 C371.9,1886.3 373.0,1895.6 374.1,1903.4 C375.3,1911.2 376.3,1920.3 377.5,1927.3 C378.7,1934.3 380.2,1939.6 381.6,1945.6 C382.9,1951.7 384.4,1959.0 385.6,1963.5 C386.8,1968.0 387.8,1969.5 389.0,1972.4 C390.1,1975.3 391.2,1981.7 392.3,1980.9 C393.4,1980.1 394.5,1971.8 395.6,1967.4 C396.8,1962.9 397.6,1958.3 399.0,1954.1 C400.4,1949.9 402.9,1943.1 404.3,1942.0 C405.7,1940.9 406.5,1945.8 407.6,1947.8 C408.8,1949.8 410.0,1950.8 411.0,1954.1 C412.0,1957.4 412.3,1972.0 413.7,1967.5 C415.1,1963.0 417.3,1945.2 419.1,1927.3 C420.9,1909.4 422.6,1876.5 424.4,1860.2 C426.2,1843.9 428.0,1831.6 429.8,1829.4 C431.6,1827.2 433.6,1832.7 435.2,1846.8 C436.8,1860.9 437.9,1896.0 439.2,1913.9 C440.5,1931.8 441.9,1939.6 443.2,1954.1 C444.5,1968.6 445.6,1991.0 447.2,2001.0 C448.8,2011.0 451.1,2012.7 452.6,2014.4 C454.1,2016.1 454.8,2012.5 456.0,2011.4 C457.1,2010.3 457.8,2012.8 459.3,2007.7 C460.8,2002.6 463.2,1989.0 464.7,1980.9 C466.1,1972.8 466.6,1963.2 468.0,1958.9 C469.4,1954.6 471.6,1954.6 472.9,1955.3 C474.2,1956.0 474.9,1960.4 475.9,1963.0 C476.9,1965.6 477.6,1959.6 478.9,1971.0 C480.2,1982.4 482.5,2018.9 483.8,2031.7 C485.1,2044.5 485.8,2042.3 486.9,2047.8 C487.9,2053.2 488.9,2061.6 489.9,2064.5 C490.9,2067.4 491.9,2064.9 492.9,2065.4 C493.9,2065.9 494.9,2066.8 495.9,2067.2 C497.0,2067.7 498.0,2067.9 499.0,2068.3 C500.0,2068.6 500.8,2069.8 502.0,2069.4 C503.2,2069.0 504.8,2067.2 506.2,2066.0 C507.7,2064.8 509.4,2066.8 510.5,2062.1 C511.6,2057.4 512.0,2043.8 512.9,2037.8 C513.8,2031.8 514.9,2029.9 516.0,2025.8 C517.0,2021.8 518.0,2018.4 519.0,2013.5 C520.0,2008.6 521.0,2002.2 522.0,1996.5 C523.1,1990.9 523.8,1984.2 525.1,1979.5 C526.4,1974.8 528.3,1968.6 529.9,1968.6 C531.5,1968.6 533.2,1969.0 534.8,1979.5 C536.4,1990.0 538.0,2015.9 539.6,2031.7 C541.2,2047.5 543.0,2065.7 544.5,2074.2 C546.0,2082.7 547.3,2079.8 548.8,2082.5 C550.2,2085.1 551.8,2089.1 553.0,2090.0 C554.2,2090.9 555.0,2088.7 556.0,2088.1 C557.0,2087.5 557.7,2092.8 559.0,2086.4 C560.3,2080.0 562.3,2061.0 563.9,2049.9 C565.5,2038.8 567.2,2030.7 568.8,2019.6 C570.4,2008.5 572.2,1990.3 573.6,1983.2 C575.0,1976.1 575.9,1974.1 577.3,1977.1 C578.7,1980.1 580.7,1993.3 582.1,2001.4 C583.5,2009.5 584.3,2027.7 585.7,2025.7 C587.1,2023.7 589.3,1999.2 590.6,1989.2 C591.9,1979.2 592.6,1973.5 593.7,1965.6 C594.7,1957.7 595.7,1945.9 596.7,1941.9 C597.7,1937.9 598.7,1941.8 599.7,1941.6 C600.7,1941.4 601.6,1936.8 602.7,1940.7 C603.8,1944.6 605.0,1953.9 606.4,1965.0 C607.8,1976.1 610.0,1996.0 611.2,2007.5 C612.4,2019.0 612.5,2035.2 613.7,2034.2 C614.9,2033.2 616.9,2009.3 618.5,2001.4 C620.1,1993.5 621.8,1991.2 623.4,1986.8 C625.0,1982.3 627.0,1976.3 628.2,1974.7 C629.4,1973.1 630.3,1976.7 630.7,1977.1" fill="none" stroke="#ff9cf6" stroke-width="4.6" stroke-linejoin="round" stroke-linecap="round" />
<path d="M154.5,1580.0 C154.6,1582.8 154.7,1589.5 155.3,1596.7 C155.9,1604.0 157.6,1611.7 158.0,1623.5 C158.4,1635.3 157.6,1657.7 158.0,1667.8 C158.4,1677.9 159.6,1677.9 160.7,1683.9 C161.8,1689.9 163.4,1696.9 164.7,1703.6 C166.0,1710.3 167.5,1714.0 168.7,1724.1 C169.9,1734.2 171.0,1750.9 172.1,1764.3 C173.2,1777.7 174.6,1791.8 175.4,1804.5 C176.2,1817.2 176.0,1827.5 176.8,1840.2 C177.6,1852.9 178.8,1880.5 180.1,1880.5 C181.4,1880.5 183.4,1853.6 184.8,1840.2 C186.2,1826.8 187.5,1810.9 188.8,1800.0 C190.2,1789.1 191.3,1775.0 192.9,1775.0 C194.5,1775.0 196.4,1790.2 198.2,1800.0 C200.0,1809.8 202.0,1821.9 203.6,1833.5 C205.2,1845.1 206.4,1864.5 207.6,1869.7 C208.8,1874.9 209.8,1866.3 210.9,1864.5 C212.1,1862.7 212.8,1859.3 214.3,1859.0 C215.8,1858.7 218.2,1861.2 219.7,1863.0 C221.2,1864.8 221.9,1867.4 223.0,1869.8 C224.2,1872.1 225.3,1874.6 226.4,1877.1 C227.5,1879.5 228.6,1881.9 229.8,1884.3 C230.9,1886.6 231.9,1890.7 233.1,1891.2 C234.3,1891.7 235.8,1888.7 237.1,1887.4 C238.4,1886.0 239.5,1882.0 241.1,1883.1 C242.7,1884.2 244.9,1888.6 246.5,1893.9 C248.1,1899.2 249.2,1907.7 250.5,1914.6 C251.8,1921.5 253.3,1934.3 254.5,1935.4 C255.7,1936.5 256.7,1926.0 257.9,1921.3 C259.0,1916.7 260.1,1911.7 261.2,1907.3 C262.3,1902.9 263.5,1898.8 264.6,1894.8 C265.7,1890.8 266.6,1886.4 268.0,1883.1 C269.4,1879.8 271.9,1876.9 273.3,1875.1 C274.7,1873.3 275.5,1873.2 276.6,1872.3 C277.8,1871.4 278.6,1868.6 280.0,1869.7 C281.4,1870.8 283.7,1873.9 285.0,1879.0 C286.3,1884.1 286.8,1890.1 287.7,1900.4 C288.6,1910.7 289.4,1929.9 290.4,1940.7 C291.4,1951.5 292.6,1957.1 293.8,1965.4 C294.9,1973.7 296.0,1988.6 297.1,1990.3 C298.2,1992.0 299.3,1980.7 300.5,1975.8 C301.6,1970.9 302.4,1965.5 303.8,1960.8 C305.2,1956.1 307.3,1955.2 309.1,1947.4 C310.9,1939.6 312.7,1926.2 314.5,1913.9 C316.3,1901.6 318.1,1883.7 319.9,1873.6 C321.7,1863.5 323.4,1851.3 325.2,1853.5 C327.0,1855.7 328.8,1874.7 330.6,1887.0 C332.4,1899.3 334.2,1925.1 336.0,1927.3 C337.8,1929.5 339.5,1907.8 341.3,1900.4 C343.1,1893.0 345.1,1880.8 346.7,1883.0 C348.3,1885.2 349.6,1902.1 350.7,1913.9 C351.8,1925.8 352.1,1940.2 353.4,1954.1 C354.7,1967.9 356.9,1993.7 358.7,1997.0 C360.5,2000.3 362.3,1982.2 364.1,1974.2 C365.9,1966.2 368.0,1951.3 369.5,1948.7 C371.0,1946.1 371.7,1955.4 372.9,1958.8 C374.0,1962.1 375.0,1966.4 376.2,1968.8 C377.4,1971.2 378.6,1972.0 379.8,1973.5 C381.0,1975.0 382.1,1976.2 383.3,1977.7 C384.5,1979.1 385.4,1983.9 386.9,1982.2 C388.4,1980.5 390.5,1968.2 392.3,1967.5 C394.1,1966.8 395.8,1972.0 397.6,1978.2 C399.4,1984.5 401.4,1999.7 403.0,2005.0 C404.6,2010.3 405.7,2008.3 407.0,2010.1 C408.3,2011.9 409.6,2016.2 411.0,2015.8 C412.4,2015.4 413.5,2018.0 415.1,2007.7 C416.7,1997.4 418.6,1969.7 420.4,1954.1 C422.2,1938.5 424.0,1924.2 425.8,1913.9 C427.6,1903.6 429.4,1890.2 431.2,1892.4 C433.0,1894.6 434.7,1916.6 436.5,1927.3 C438.3,1938.0 440.4,1950.4 441.9,1956.8 C443.4,1963.2 444.1,1962.9 445.2,1965.8 C446.4,1968.7 447.2,1969.4 448.6,1974.2 C450.0,1979.0 452.1,1986.5 453.9,1994.3 C455.7,2002.1 457.5,2011.0 459.3,2021.1 C461.1,2031.1 463.2,2046.9 464.7,2054.6 C466.2,2062.3 467.0,2063.0 468.1,2067.1 C469.3,2071.2 470.5,2078.5 471.6,2079.1 C472.7,2079.7 473.6,2073.3 474.6,2070.5 C475.7,2067.7 476.7,2065.1 477.7,2062.1 C478.7,2059.1 479.7,2055.7 480.8,2052.7 C481.8,2049.6 482.8,2045.9 483.8,2043.9 C484.8,2041.9 485.8,2041.9 486.9,2040.9 C487.9,2039.8 488.9,2040.3 489.9,2037.8 C490.9,2035.3 492.1,2029.9 493.1,2026.1 C494.2,2022.2 495.3,2018.5 496.4,2014.6 C497.4,2010.6 498.6,2004.0 499.6,2002.6 C500.6,2001.2 501.6,2005.1 502.6,2006.3 C503.6,2007.5 504.3,2005.5 505.6,2009.9 C506.9,2014.3 508.9,2027.1 510.5,2033.0 C512.1,2038.9 513.7,2044.9 515.3,2045.1 C516.9,2045.3 518.9,2038.2 520.2,2034.2 C521.5,2030.2 522.2,2025.3 523.2,2020.9 C524.3,2016.4 525.3,2011.1 526.3,2007.5 C527.3,2003.9 528.3,2001.9 529.3,1999.1 C530.3,1996.2 531.3,1992.5 532.3,1990.5 C533.3,1988.5 534.3,1988.4 535.3,1987.4 C536.4,1986.3 537.1,1982.1 538.4,1984.4 C539.7,1986.7 541.9,1997.6 543.3,2001.4 C544.7,2005.2 545.7,2005.1 546.9,2007.1 C548.1,2009.1 549.1,2008.4 550.5,2013.5 C551.9,2018.6 554.0,2032.3 555.4,2037.8 C556.8,2043.3 557.8,2043.5 559.0,2046.5 C560.3,2049.6 561.6,2054.7 562.7,2056.0 C563.8,2057.3 564.7,2055.2 565.8,2054.6 C566.8,2054.0 567.7,2059.2 568.8,2052.4 C569.9,2045.6 571.2,2026.0 572.4,2013.5 C573.6,2001.0 574.8,1989.8 576.0,1977.1 C577.2,1964.4 578.5,1944.6 579.7,1937.1 C580.9,1929.6 581.9,1929.2 583.3,1932.2 C584.7,1935.2 586.6,1945.8 588.2,1955.3 C589.8,1964.8 591.8,1980.5 593.0,1989.2 C594.2,1997.9 594.5,2007.5 595.5,2007.5 C596.5,2007.5 597.7,1995.9 599.1,1989.2 C600.5,1982.5 602.6,1971.6 604.0,1967.4 C605.4,1963.2 606.4,1961.6 607.6,1963.8 C608.8,1966.0 610.0,1974.5 611.2,1980.8 C612.4,1987.1 613.7,1995.3 614.9,2001.4 C616.1,2007.5 617.1,2016.8 618.5,2017.2 C619.9,2017.6 621.8,2007.8 623.4,2003.8 C625.0,1999.8 627.0,1994.9 628.2,1992.9 C629.4,1990.9 630.3,1991.9 630.7,1991.7" fill="none" stroke="#0c1898" stroke-width="4.6" stroke-linejoin="round" stroke-linecap="round" />
</g>
<ellipse cx="486.4" cy="1645.0" rx="31.0" ry="32.5" fill="none" stroke="#ff0000" stroke-width="4.5"/>
<circle cx="602.9" cy="1645.0" r="31.5" fill="none" stroke="#ff99ff" stroke-width="4.5"/>
<rect x="445" y="1713" width="201.5" height="87.5" rx="8" fill="none" stroke="#5a5a5a" stroke-width="2.4"/>
<circle cx="486.0" cy="1755.4" r="30.5" fill="none" stroke="#000099" stroke-width="5"/>
<circle cx="602.5" cy="1755.8" r="31.0" fill="none" stroke="#00ffff" stroke-width="5.5"/>
<line x1="455.2" y1="1756.5" x2="223.1" y2="1783.7" stroke="#111" stroke-width="2.8" />
<polygon points="202.2,1786.1 223.8,1773.0 226.3,1793.9" fill="#111"/>
<line x1="604.5" y1="1677.9" x2="455.6" y2="1865.0" stroke="#111" stroke-width="2.8" />
<polygon points="442.5,1881.4 448.6,1856.9 465.0,1869.9" fill="#111"/>
<line x1="605.3" y1="1786.7" x2="409.9" y2="2049.2" stroke="#111" stroke-width="2.8" />
<polygon points="397.4,2066.0 402.7,2041.3 419.6,2053.8" fill="#111"/>
</g>
<text x="9.0" y="50.0" font-size="33" font-weight="bold" fill="#000" textLength="23.8" lengthAdjust="spacingAndGlyphs">A</text>
<text x="9.2" y="105.5" font-size="32" fill="#2a2a2a" stroke="#2a2a2a" stroke-width="0.3" textLength="81.4" lengthAdjust="spacingAndGlyphs">100%</text>
<text x="45.4" y="652.0" font-size="32" fill="#2a2a2a" stroke="#2a2a2a" stroke-width="0.3" textLength="45.1" lengthAdjust="spacingAndGlyphs">0%</text>
<text x="90.9" y="676.3" font-size="32" fill="#1a1a1a" stroke="#1a1a1a" stroke-width="0.3" textLength="12.6" lengthAdjust="spacingAndGlyphs">1</text>
<text x="615.3" y="675.6" font-size="32" fill="#1a1a1a" stroke="#1a1a1a" stroke-width="0.3" textLength="33.7" lengthAdjust="spacingAndGlyphs">10</text>
<text x="648.1" y="666.5" font-size="20" fill="#1a1a1a" stroke="#1a1a1a" stroke-width="0.3" textLength="13.3" lengthAdjust="spacingAndGlyphs">5</text>
<text x="285.0" y="711.5" font-size="49" fill="#050505" stroke="#050505" stroke-width="0.4" textLength="167.1" lengthAdjust="spacingAndGlyphs">Trial No</text>
<text transform="translate(77.0,621.3) rotate(-90)" x="0" y="0" font-size="50" fill="#050505" stroke="#050505" stroke-width="0.4" textLength="500.9" lengthAdjust="spacingAndGlyphs">Correct Response Rate</text>
<text x="218.5" y="126.6" font-size="32" fill="#1a1a1a" stroke="#1a1a1a" stroke-width="1.1" textLength="350.4" lengthAdjust="spacingAndGlyphs">Dynamic-state model</text>
<text x="218.6" y="171.6" font-size="32" fill="#1a1a1a" stroke="#1a1a1a" stroke-width="1.1" textLength="385.3" lengthAdjust="spacingAndGlyphs">Fixed 8by8-state model</text>
<text x="218.6" y="212.8" font-size="32" fill="#1a1a1a" stroke="#1a1a1a" stroke-width="1.1" textLength="325.3" lengthAdjust="spacingAndGlyphs">Fixed 8-state model</text>
<text x="700.5" y="50.3" font-size="33" font-weight="bold" fill="#000" textLength="22.9" lengthAdjust="spacingAndGlyphs">B</text>
<text x="706.5" y="132.6" font-size="32" fill="#1a1a1a" stroke="#1a1a1a" stroke-width="0.3" textLength="93.0" lengthAdjust="spacingAndGlyphs">64 + 8</text>
<text x="735.6" y="172.0" font-size="32" fill="#1a1a1a" stroke="#1a1a1a" stroke-width="0.3" textLength="64.1" lengthAdjust="spacingAndGlyphs">= 72</text>
<text x="802.5" y="673.6" font-size="32" fill="#1a1a1a" stroke="#1a1a1a" stroke-width="0.3" textLength="11.4" lengthAdjust="spacingAndGlyphs">1</text>
<text x="1325.5" y="673.2" font-size="32" fill="#1a1a1a" stroke="#1a1a1a" stroke-width="0.3" textLength="33.4" lengthAdjust="spacingAndGlyphs">10</text>
<text x="1358.1" y="664.8" font-size="20" fill="#1a1a1a" stroke="#1a1a1a" stroke-width="0.3" textLength="14.4" lengthAdjust="spacingAndGlyphs">5</text>
<text x="996.5" y="709.4" font-size="49" fill="#050505" stroke="#050505" stroke-width="0.4" textLength="165.5" lengthAdjust="spacingAndGlyphs">Trial No</text>
<text transform="translate(783.0,499.6) rotate(-90)" x="0" y="0" font-size="50" fill="#050505" stroke="#050505" stroke-width="0.4" textLength="239.7" lengthAdjust="spacingAndGlyphs">No of State</text>
<text x="7.8" y="790.3" font-size="33" font-weight="bold" fill="#000" textLength="23.9" lengthAdjust="spacingAndGlyphs">C</text>
<text x="13.0" y="864.0" font-size="32" fill="#2a2a2a" stroke="#2a2a2a" stroke-width="0.3" textLength="81.5" lengthAdjust="spacingAndGlyphs">100%</text>
<text x="46.9" y="1399.3" font-size="32" fill="#2a2a2a" stroke="#2a2a2a" stroke-width="0.3" textLength="46.2" lengthAdjust="spacingAndGlyphs">0%</text>
<text x="96.8" y="1429.0" font-size="32" fill="#1a1a1a" stroke="#1a1a1a" stroke-width="0.3" textLength="13.2" lengthAdjust="spacingAndGlyphs">1</text>
<text x="618.4" y="1429.0" font-size="32" fill="#1a1a1a" stroke="#1a1a1a" stroke-width="0.3" textLength="31.8" lengthAdjust="spacingAndGlyphs">10</text>
<text x="649.5" y="1420.6" font-size="20" fill="#1a1a1a" stroke="#1a1a1a" stroke-width="0.3" textLength="14.8" lengthAdjust="spacingAndGlyphs">5</text>
<text x="289.8" y="1455.8" font-size="49" fill="#050505" stroke="#050505" stroke-width="0.4" textLength="166.6" lengthAdjust="spacingAndGlyphs">Trial No</text>
<text transform="translate(80.6,1283.7) rotate(-90)" x="0" y="0" font-size="50" fill="#050505" stroke="#050505" stroke-width="0.4" textLength="339.0" lengthAdjust="spacingAndGlyphs">Referred States</text>
<text x="296.0" y="1097.0" font-size="32" fill="#1a1a1a" stroke="#1a1a1a" stroke-width="1.1" textLength="245.6" lengthAdjust="spacingAndGlyphs">Previous 1 trial</text>
<text x="297.1" y="1139.0" font-size="32" fill="#1a1a1a" stroke="#1a1a1a" stroke-width="1.1" textLength="109.9" lengthAdjust="spacingAndGlyphs">2 trials</text>
<text x="297.6" y="1183.5" font-size="32" fill="#1a1a1a" stroke="#1a1a1a" stroke-width="1.1" textLength="249.9" lengthAdjust="spacingAndGlyphs">3 trials or more</text>
<text x="700.0" y="789.5" font-size="33" font-weight="bold" fill="#000" textLength="25.2" lengthAdjust="spacingAndGlyphs">D</text>
<text x="713.7" y="864.5" font-size="32" fill="#2a2a2a" stroke="#2a2a2a" stroke-width="0.3" textLength="82.2" lengthAdjust="spacingAndGlyphs">100%</text>
<text x="747.8" y="1399.4" font-size="32" fill="#2a2a2a" stroke="#2a2a2a" stroke-width="0.3" textLength="47.3" lengthAdjust="spacingAndGlyphs">0%</text>
<text x="799.9" y="1431.6" font-size="32" fill="#1a1a1a" stroke="#1a1a1a" stroke-width="0.3" textLength="12.6" lengthAdjust="spacingAndGlyphs">1</text>
<text x="1321.3" y="1431.8" font-size="32" fill="#1a1a1a" stroke="#1a1a1a" stroke-width="0.3" textLength="33.2" lengthAdjust="spacingAndGlyphs">10</text>
<text x="1354.2" y="1423.4" font-size="20" fill="#1a1a1a" stroke="#1a1a1a" stroke-width="0.3" textLength="12.9" lengthAdjust="spacingAndGlyphs">5</text>
<text x="991.4" y="1458.6" font-size="49" fill="#050505" stroke="#050505" stroke-width="0.4" textLength="167.8" lengthAdjust="spacingAndGlyphs">Trial No</text>
<text transform="translate(781.5,1231.5) rotate(-90)" x="0" y="0" font-size="50" fill="#050505" stroke="#050505" stroke-width="0.4" textLength="244.0" lengthAdjust="spacingAndGlyphs">Select Rate</text>
<text x="807.3" y="836.6" font-size="40" fill="#111" stroke="#111" stroke-width="1.1" textLength="21.7" lengthAdjust="spacingAndGlyphs">2</text>
<text x="829.1" y="821.6" font-size="26" fill="#111" stroke="#111" stroke-width="1.1" textLength="33.9" lengthAdjust="spacingAndGlyphs">nd</text>
<text x="873.7" y="835.8" font-size="36" fill="#1a1a1a" stroke="#1a1a1a" stroke-width="1.1" textLength="467.2" lengthAdjust="spacingAndGlyphs">trial in exploration phase</text>
<text x="1016.9" y="1228.8" font-size="46" fill="#000" stroke="#000" stroke-width="0.7" textLength="25.0" lengthAdjust="spacingAndGlyphs">c</text>
<text x="1158.4" y="1228.8" font-size="50" fill="#000" stroke="#000" stroke-width="0.7" textLength="29.4" lengthAdjust="spacingAndGlyphs">e</text>
<text x="867.0" y="1108.9" font-size="32" fill="#1a1a1a" stroke="#1a1a1a" stroke-width="1.1" textLength="66.3" lengthAdjust="spacingAndGlyphs">Last</text>
<text x="867.4" y="1157.2" font-size="32" fill="#1a1a1a" stroke="#1a1a1a" stroke-width="1.1" textLength="159.6" lengthAdjust="spacingAndGlyphs">rewarded</text>
<text x="868.5" y="1204.6" font-size="32" fill="#1a1a1a" stroke="#1a1a1a" stroke-width="1.1" textLength="97.9" lengthAdjust="spacingAndGlyphs">target</text>
<text x="1218.4" y="1101.7" font-size="32" fill="#1a1a1a" stroke="#1a1a1a" stroke-width="1.1" textLength="191.0" lengthAdjust="spacingAndGlyphs">First step in</text>
<text x="1219.8" y="1149.8" font-size="32" fill="#1a1a1a" stroke="#1a1a1a" stroke-width="1.1" textLength="187.5" lengthAdjust="spacingAndGlyphs">exploration</text>
<text x="1187.2" y="1293.0" font-size="32" fill="#1a1a1a" stroke="#1a1a1a" stroke-width="1.1" textLength="220.4" lengthAdjust="spacingAndGlyphs">Last valid pair</text>
<text x="8.1" y="1521.6" font-size="33" font-weight="bold" fill="#000" textLength="21.0" lengthAdjust="spacingAndGlyphs">E</text>
<text x="26.3" y="1613.8" font-size="32" fill="#2a2a2a" stroke="#2a2a2a" stroke-width="0.3" textLength="64.5" lengthAdjust="spacingAndGlyphs">15%</text>
<text x="44.6" y="2146.0" font-size="32" fill="#2a2a2a" stroke="#2a2a2a" stroke-width="0.3" textLength="47.3" lengthAdjust="spacingAndGlyphs">0%</text>
<text x="96.8" y="2178.6" font-size="32" fill="#1a1a1a" stroke="#1a1a1a" stroke-width="0.3" textLength="13.2" lengthAdjust="spacingAndGlyphs">1</text>
<text x="617.6" y="2178.2" font-size="32" fill="#1a1a1a" stroke="#1a1a1a" stroke-width="0.3" textLength="32.7" lengthAdjust="spacingAndGlyphs">10</text>
<text x="649.6" y="2169.6" font-size="20" fill="#1a1a1a" stroke="#1a1a1a" stroke-width="0.3" textLength="13.8" lengthAdjust="spacingAndGlyphs">5</text>
<text x="289.8" y="2208.2" font-size="49" fill="#050505" stroke="#050505" stroke-width="0.4" textLength="166.6" lengthAdjust="spacingAndGlyphs">Trial No</text>
<text transform="translate(78.4,1982.9) rotate(-90)" x="0" y="0" font-size="50" fill="#050505" stroke="#050505" stroke-width="0.4" textLength="252.7" lengthAdjust="spacingAndGlyphs">Select Rate</text>
<text x="103.7" y="1586.3" font-size="40" fill="#111" stroke="#111" stroke-width="1.1" textLength="22.7" lengthAdjust="spacingAndGlyphs">2</text>
<text x="127.7" y="1570.8" font-size="26" fill="#111" stroke="#111" stroke-width="1.1" textLength="31.5" lengthAdjust="spacingAndGlyphs">nd</text>
<text x="170.6" y="1584.6" font-size="36" fill="#1a1a1a" stroke="#1a1a1a" stroke-width="1.1" textLength="467.2" lengthAdjust="spacingAndGlyphs">trial in exploration phase</text>
<text x="473.2" y="1769.2" font-size="46" fill="#000" stroke="#000" stroke-width="0.7" textLength="24.0" lengthAdjust="spacingAndGlyphs">c</text>
<text x="588.3" y="1770.0" font-size="48" fill="#000" stroke="#000" stroke-width="0.7" textLength="28.3" lengthAdjust="spacingAndGlyphs">e</text>
</svg>
</body></html>
